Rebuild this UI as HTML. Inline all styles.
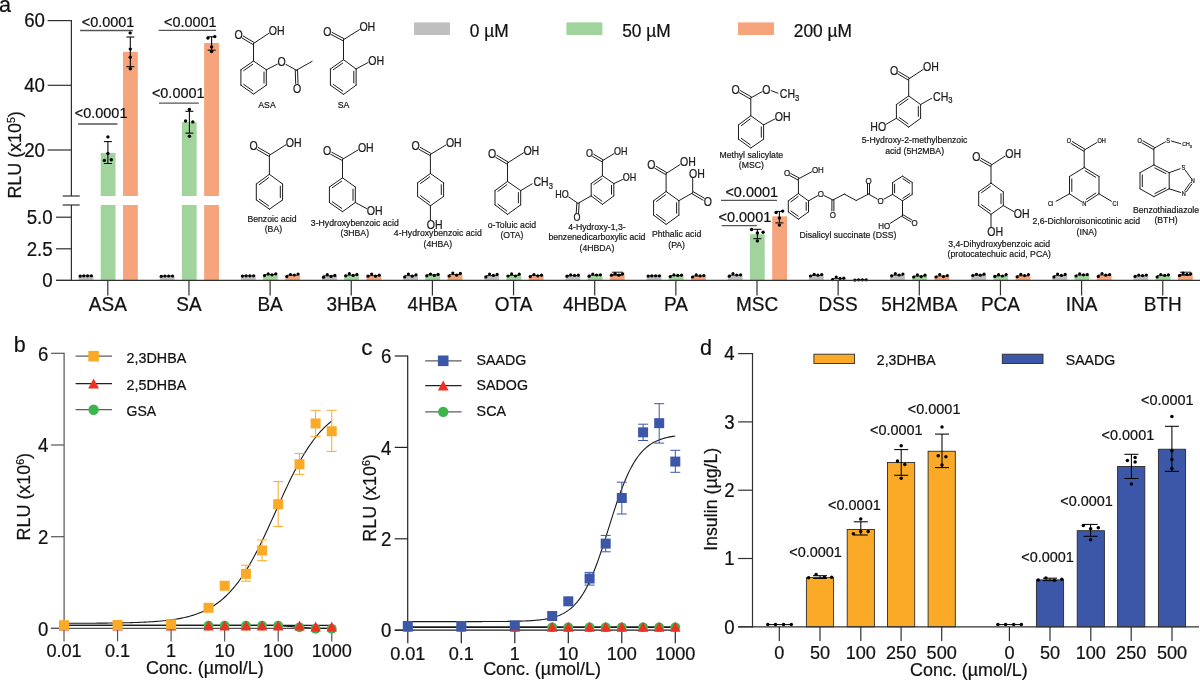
<!DOCTYPE html>
<html><head><meta charset="utf-8"><title>Figure</title>
<style>
html,body{margin:0;padding:0;background:#fff;overflow:hidden;}
svg{display:block;font-family:"Liberation Sans",sans-serif;will-change:transform;}
</style></head>
<body>
<svg width="1200" height="681" viewBox="0 0 1200 681">
<text transform="translate(-1,12.2) scale(1,1)" font-size="21.5" text-anchor="start" fill="#111111" stroke="#111111" stroke-width="0.22" >a</text>
<rect x="78.6" y="275.8" width="14.8" height="4.6" fill="#bfbfbf"/>
<line x1="80.1" y1="275.8" x2="91.6" y2="275.8" stroke="#000" stroke-width="0.8" />
<circle cx="80.1" cy="276.1" r="1.6" fill="#000"/>
<circle cx="83.8" cy="275.8" r="1.6" fill="#000"/>
<circle cx="87.6" cy="275.8" r="1.6" fill="#000"/>
<circle cx="91.4" cy="275.8" r="1.6" fill="#000"/>
<rect x="100.7" y="152.9" width="14.8" height="127.5" fill="#a1d39c"/>
<rect x="123" y="51.8" width="14.8" height="228.6" fill="#f5a47b"/>
<rect x="159.75" y="276" width="14.8" height="4.4" fill="#bfbfbf"/>
<line x1="161.25" y1="276" x2="172.75" y2="276" stroke="#000" stroke-width="0.8" />
<circle cx="161.25" cy="276.3" r="1.6" fill="#000"/>
<circle cx="164.95" cy="276" r="1.6" fill="#000"/>
<circle cx="168.75" cy="276" r="1.6" fill="#000"/>
<circle cx="172.55" cy="276" r="1.6" fill="#000"/>
<rect x="181.85" y="122.1" width="14.8" height="158.3" fill="#a1d39c"/>
<rect x="204.15" y="43" width="14.8" height="237.4" fill="#f5a47b"/>
<rect x="240.9" y="275.8" width="14.8" height="4.6" fill="#bfbfbf"/>
<line x1="242.4" y1="275.8" x2="253.9" y2="275.8" stroke="#000" stroke-width="0.8" />
<circle cx="242.4" cy="276.1" r="1.6" fill="#000"/>
<circle cx="246.1" cy="275.8" r="1.6" fill="#000"/>
<circle cx="249.9" cy="275.8" r="1.6" fill="#000"/>
<circle cx="253.7" cy="275.8" r="1.6" fill="#000"/>
<rect x="263" y="274.6" width="14.8" height="5.8" fill="#a1d39c"/>
<line x1="264.5" y1="274.6" x2="276" y2="274.6" stroke="#000" stroke-width="0.8" />
<circle cx="264.5" cy="275.6" r="1.6" fill="#000"/>
<circle cx="268.2" cy="273.9" r="1.6" fill="#000"/>
<circle cx="272" cy="274.8" r="1.6" fill="#000"/>
<circle cx="275.8" cy="273.8" r="1.6" fill="#000"/>
<rect x="285.3" y="275.2" width="14.8" height="5.2" fill="#f5a47b"/>
<line x1="286.8" y1="275.2" x2="298.3" y2="275.2" stroke="#000" stroke-width="0.8" />
<circle cx="286.8" cy="276.6" r="1.6" fill="#000"/>
<circle cx="290.5" cy="274.5" r="1.6" fill="#000"/>
<circle cx="294.3" cy="275" r="1.6" fill="#000"/>
<circle cx="298.1" cy="274" r="1.6" fill="#000"/>
<rect x="322.05" y="275.8" width="14.8" height="4.6" fill="#bfbfbf"/>
<line x1="323.55" y1="275.8" x2="335.05" y2="275.8" stroke="#000" stroke-width="0.8" />
<circle cx="323.55" cy="277.2" r="1.6" fill="#000"/>
<circle cx="327.25" cy="274.7" r="1.6" fill="#000"/>
<circle cx="331.05" cy="276.4" r="1.6" fill="#000"/>
<circle cx="334.85" cy="275.4" r="1.6" fill="#000"/>
<rect x="344.15" y="275.2" width="14.8" height="5.2" fill="#a1d39c"/>
<line x1="345.65" y1="275.2" x2="357.15" y2="275.2" stroke="#000" stroke-width="0.8" />
<circle cx="345.65" cy="275.8" r="1.6" fill="#000"/>
<circle cx="349.35" cy="273.7" r="1.6" fill="#000"/>
<circle cx="353.15" cy="275.4" r="1.6" fill="#000"/>
<circle cx="356.95" cy="274.4" r="1.6" fill="#000"/>
<rect x="366.45" y="275.6" width="14.8" height="4.8" fill="#f5a47b"/>
<line x1="367.95" y1="275.6" x2="379.45" y2="275.6" stroke="#000" stroke-width="0.8" />
<circle cx="367.95" cy="276.2" r="1.6" fill="#000"/>
<circle cx="371.65" cy="274.1" r="1.6" fill="#000"/>
<circle cx="375.45" cy="276.2" r="1.6" fill="#000"/>
<circle cx="379.25" cy="275.2" r="1.6" fill="#000"/>
<rect x="403.2" y="275.6" width="14.8" height="4.8" fill="#bfbfbf"/>
<line x1="404.7" y1="275.6" x2="416.2" y2="275.6" stroke="#000" stroke-width="0.8" />
<circle cx="404.7" cy="277" r="1.6" fill="#000"/>
<circle cx="408.4" cy="274.1" r="1.6" fill="#000"/>
<circle cx="412.2" cy="276.2" r="1.6" fill="#000"/>
<circle cx="416" cy="274.8" r="1.6" fill="#000"/>
<rect x="425.3" y="274.8" width="14.8" height="5.6" fill="#a1d39c"/>
<line x1="426.8" y1="274.8" x2="438.3" y2="274.8" stroke="#000" stroke-width="0.8" />
<circle cx="426.8" cy="275.8" r="1.6" fill="#000"/>
<circle cx="430.5" cy="274.1" r="1.6" fill="#000"/>
<circle cx="434.3" cy="275.4" r="1.6" fill="#000"/>
<circle cx="438.1" cy="274.4" r="1.6" fill="#000"/>
<rect x="447.6" y="274.6" width="14.8" height="5.8" fill="#f5a47b"/>
<line x1="449.1" y1="274.6" x2="460.6" y2="274.6" stroke="#000" stroke-width="0.8" />
<circle cx="449.1" cy="276" r="1.6" fill="#000"/>
<circle cx="452.8" cy="273.1" r="1.6" fill="#000"/>
<circle cx="456.6" cy="275.2" r="1.6" fill="#000"/>
<circle cx="460.4" cy="273.4" r="1.6" fill="#000"/>
<rect x="484.35" y="275.6" width="14.8" height="4.8" fill="#bfbfbf"/>
<line x1="485.85" y1="275.6" x2="497.35" y2="275.6" stroke="#000" stroke-width="0.8" />
<circle cx="485.85" cy="277" r="1.6" fill="#000"/>
<circle cx="489.55" cy="274.1" r="1.6" fill="#000"/>
<circle cx="493.35" cy="275.4" r="1.6" fill="#000"/>
<circle cx="497.15" cy="274.4" r="1.6" fill="#000"/>
<rect x="506.45" y="275.4" width="14.8" height="5" fill="#a1d39c"/>
<line x1="507.95" y1="275.4" x2="519.45" y2="275.4" stroke="#000" stroke-width="0.8" />
<circle cx="507.95" cy="276" r="1.6" fill="#000"/>
<circle cx="511.65" cy="273.9" r="1.6" fill="#000"/>
<circle cx="515.45" cy="276" r="1.6" fill="#000"/>
<circle cx="519.25" cy="274.2" r="1.6" fill="#000"/>
<rect x="528.75" y="275.6" width="14.8" height="4.8" fill="#f5a47b"/>
<line x1="530.25" y1="275.6" x2="541.75" y2="275.6" stroke="#000" stroke-width="0.8" />
<circle cx="530.25" cy="276.6" r="1.6" fill="#000"/>
<circle cx="533.95" cy="274.5" r="1.6" fill="#000"/>
<circle cx="537.75" cy="275.8" r="1.6" fill="#000"/>
<circle cx="541.55" cy="275.2" r="1.6" fill="#000"/>
<rect x="565.5" y="275.6" width="14.8" height="4.8" fill="#bfbfbf"/>
<line x1="567" y1="275.6" x2="578.5" y2="275.6" stroke="#000" stroke-width="0.8" />
<circle cx="567" cy="276.2" r="1.6" fill="#000"/>
<circle cx="570.7" cy="274.9" r="1.6" fill="#000"/>
<circle cx="574.5" cy="275.4" r="1.6" fill="#000"/>
<circle cx="578.3" cy="275.2" r="1.6" fill="#000"/>
<rect x="587.6" y="275.2" width="14.8" height="5.2" fill="#a1d39c"/>
<line x1="589.1" y1="275.2" x2="600.6" y2="275.2" stroke="#000" stroke-width="0.8" />
<circle cx="589.1" cy="276.2" r="1.6" fill="#000"/>
<circle cx="592.8" cy="274.1" r="1.6" fill="#000"/>
<circle cx="596.6" cy="275" r="1.6" fill="#000"/>
<circle cx="600.4" cy="274.8" r="1.6" fill="#000"/>
<rect x="609.9" y="274.6" width="14.8" height="5.8" fill="#f5a47b"/>
<line x1="611.4" y1="274.6" x2="622.9" y2="274.6" stroke="#000" stroke-width="0.8" />
<circle cx="611.4" cy="275.2" r="1.6" fill="#000"/>
<circle cx="615.1" cy="273.5" r="1.6" fill="#000"/>
<circle cx="618.9" cy="275.2" r="1.6" fill="#000"/>
<circle cx="622.7" cy="273.8" r="1.6" fill="#000"/>
<line x1="611.9" y1="272.2" x2="622.9" y2="272.2" stroke="#000" stroke-width="0.9" />
<line x1="611.9" y1="275.2" x2="622.9" y2="275.2" stroke="#000" stroke-width="0.9" />
<rect x="646.65" y="275.8" width="14.8" height="4.6" fill="#bfbfbf"/>
<line x1="648.15" y1="275.8" x2="659.65" y2="275.8" stroke="#000" stroke-width="0.8" />
<circle cx="648.15" cy="276.1" r="1.6" fill="#000"/>
<circle cx="651.85" cy="275.8" r="1.6" fill="#000"/>
<circle cx="655.65" cy="275.8" r="1.6" fill="#000"/>
<circle cx="659.45" cy="275.8" r="1.6" fill="#000"/>
<rect x="668.75" y="275.6" width="14.8" height="4.8" fill="#a1d39c"/>
<line x1="670.25" y1="275.6" x2="681.75" y2="275.6" stroke="#000" stroke-width="0.8" />
<circle cx="670.25" cy="276.6" r="1.6" fill="#000"/>
<circle cx="673.95" cy="274.9" r="1.6" fill="#000"/>
<circle cx="677.75" cy="275.4" r="1.6" fill="#000"/>
<circle cx="681.55" cy="275.2" r="1.6" fill="#000"/>
<rect x="691.05" y="276" width="14.8" height="4.4" fill="#f5a47b"/>
<line x1="692.55" y1="276" x2="704.05" y2="276" stroke="#000" stroke-width="0.8" />
<circle cx="692.55" cy="277" r="1.6" fill="#000"/>
<circle cx="696.25" cy="274.9" r="1.6" fill="#000"/>
<circle cx="700.05" cy="275.8" r="1.6" fill="#000"/>
<circle cx="703.85" cy="275.6" r="1.6" fill="#000"/>
<rect x="727.8" y="275.2" width="14.8" height="5.2" fill="#bfbfbf"/>
<line x1="729.3" y1="275.2" x2="740.8" y2="275.2" stroke="#000" stroke-width="0.8" />
<circle cx="729.3" cy="276.2" r="1.6" fill="#000"/>
<circle cx="733" cy="273.7" r="1.6" fill="#000"/>
<circle cx="736.8" cy="275" r="1.6" fill="#000"/>
<circle cx="740.6" cy="274.8" r="1.6" fill="#000"/>
<rect x="749.9" y="234.2" width="14.8" height="46.2" fill="#a1d39c"/>
<rect x="772.2" y="216.3" width="14.8" height="64.1" fill="#f5a47b"/>
<rect x="808.95" y="275.4" width="14.8" height="5" fill="#bfbfbf"/>
<line x1="810.45" y1="275.4" x2="821.95" y2="275.4" stroke="#000" stroke-width="0.8" />
<circle cx="810.45" cy="276" r="1.6" fill="#000"/>
<circle cx="814.15" cy="274.3" r="1.6" fill="#000"/>
<circle cx="817.95" cy="275.2" r="1.6" fill="#000"/>
<circle cx="821.75" cy="274.6" r="1.6" fill="#000"/>
<rect x="831.05" y="279.5" width="14.8" height="0.9" fill="#a1d39c"/>
<line x1="832.55" y1="278.6" x2="844.05" y2="278.6" stroke="#000" stroke-width="0.8" />
<circle cx="832.55" cy="279.6" r="1.6" fill="#000"/>
<circle cx="836.25" cy="277.1" r="1.6" fill="#000"/>
<circle cx="840.05" cy="278.4" r="1.6" fill="#000"/>
<circle cx="843.85" cy="278.2" r="1.6" fill="#000"/>
<line x1="854.85" y1="279.8" x2="866.35" y2="279.8" stroke="#000" stroke-width="0.8" />
<circle cx="854.85" cy="280.1" r="1.6" fill="#000"/>
<circle cx="858.55" cy="279.8" r="1.6" fill="#000"/>
<circle cx="862.35" cy="279.8" r="1.6" fill="#000"/>
<circle cx="866.15" cy="279.8" r="1.6" fill="#000"/>
<rect x="890.1" y="275.2" width="14.8" height="5.2" fill="#bfbfbf"/>
<line x1="891.6" y1="275.2" x2="903.1" y2="275.2" stroke="#000" stroke-width="0.8" />
<circle cx="891.6" cy="275.8" r="1.6" fill="#000"/>
<circle cx="895.3" cy="273.7" r="1.6" fill="#000"/>
<circle cx="899.1" cy="275" r="1.6" fill="#000"/>
<circle cx="902.9" cy="274" r="1.6" fill="#000"/>
<rect x="912.2" y="276" width="14.8" height="4.4" fill="#a1d39c"/>
<line x1="913.7" y1="276" x2="925.2" y2="276" stroke="#000" stroke-width="0.8" />
<circle cx="913.7" cy="277" r="1.6" fill="#000"/>
<circle cx="917.4" cy="274.9" r="1.6" fill="#000"/>
<circle cx="921.2" cy="276.6" r="1.6" fill="#000"/>
<circle cx="925" cy="275.2" r="1.6" fill="#000"/>
<rect x="934.5" y="276" width="14.8" height="4.4" fill="#f5a47b"/>
<line x1="936" y1="276" x2="947.5" y2="276" stroke="#000" stroke-width="0.8" />
<circle cx="936" cy="277" r="1.6" fill="#000"/>
<circle cx="939.7" cy="274.5" r="1.6" fill="#000"/>
<circle cx="943.5" cy="276.6" r="1.6" fill="#000"/>
<circle cx="947.3" cy="275.6" r="1.6" fill="#000"/>
<rect x="971.25" y="275" width="14.8" height="5.4" fill="#bfbfbf"/>
<line x1="972.75" y1="275" x2="984.25" y2="275" stroke="#000" stroke-width="0.8" />
<circle cx="972.75" cy="275.6" r="1.6" fill="#000"/>
<circle cx="976.45" cy="274.3" r="1.6" fill="#000"/>
<circle cx="980.25" cy="275.2" r="1.6" fill="#000"/>
<circle cx="984.05" cy="274.2" r="1.6" fill="#000"/>
<rect x="993.35" y="275.8" width="14.8" height="4.6" fill="#a1d39c"/>
<line x1="994.85" y1="275.8" x2="1006.35" y2="275.8" stroke="#000" stroke-width="0.8" />
<circle cx="994.85" cy="276.4" r="1.6" fill="#000"/>
<circle cx="998.55" cy="274.7" r="1.6" fill="#000"/>
<circle cx="1002.35" cy="276" r="1.6" fill="#000"/>
<circle cx="1006.15" cy="274.6" r="1.6" fill="#000"/>
<rect x="1015.65" y="275.8" width="14.8" height="4.6" fill="#f5a47b"/>
<line x1="1017.15" y1="275.8" x2="1028.65" y2="275.8" stroke="#000" stroke-width="0.8" />
<circle cx="1017.15" cy="276.8" r="1.6" fill="#000"/>
<circle cx="1020.85" cy="274.3" r="1.6" fill="#000"/>
<circle cx="1024.65" cy="275.6" r="1.6" fill="#000"/>
<circle cx="1028.45" cy="274.6" r="1.6" fill="#000"/>
<rect x="1052.4" y="275.6" width="14.8" height="4.8" fill="#bfbfbf"/>
<line x1="1053.9" y1="275.6" x2="1065.4" y2="275.6" stroke="#000" stroke-width="0.8" />
<circle cx="1053.9" cy="277" r="1.6" fill="#000"/>
<circle cx="1057.6" cy="274.1" r="1.6" fill="#000"/>
<circle cx="1061.4" cy="275.4" r="1.6" fill="#000"/>
<circle cx="1065.2" cy="274.4" r="1.6" fill="#000"/>
<rect x="1074.5" y="275" width="14.8" height="5.4" fill="#a1d39c"/>
<line x1="1076" y1="275" x2="1087.5" y2="275" stroke="#000" stroke-width="0.8" />
<circle cx="1076" cy="276" r="1.6" fill="#000"/>
<circle cx="1079.7" cy="273.9" r="1.6" fill="#000"/>
<circle cx="1083.5" cy="274.8" r="1.6" fill="#000"/>
<circle cx="1087.3" cy="274.6" r="1.6" fill="#000"/>
<rect x="1096.8" y="275" width="14.8" height="5.4" fill="#f5a47b"/>
<line x1="1098.3" y1="275" x2="1109.8" y2="275" stroke="#000" stroke-width="0.8" />
<circle cx="1098.3" cy="276.4" r="1.6" fill="#000"/>
<circle cx="1102" cy="273.5" r="1.6" fill="#000"/>
<circle cx="1105.8" cy="275.2" r="1.6" fill="#000"/>
<circle cx="1109.6" cy="274.6" r="1.6" fill="#000"/>
<rect x="1133.55" y="275.8" width="14.8" height="4.6" fill="#bfbfbf"/>
<line x1="1135.05" y1="275.8" x2="1146.55" y2="275.8" stroke="#000" stroke-width="0.8" />
<circle cx="1135.05" cy="276.4" r="1.6" fill="#000"/>
<circle cx="1138.75" cy="275.1" r="1.6" fill="#000"/>
<circle cx="1142.55" cy="275.6" r="1.6" fill="#000"/>
<circle cx="1146.35" cy="275" r="1.6" fill="#000"/>
<rect x="1155.65" y="275.6" width="14.8" height="4.8" fill="#a1d39c"/>
<line x1="1157.15" y1="275.6" x2="1168.65" y2="275.6" stroke="#000" stroke-width="0.8" />
<circle cx="1157.15" cy="277" r="1.6" fill="#000"/>
<circle cx="1160.85" cy="274.5" r="1.6" fill="#000"/>
<circle cx="1164.65" cy="275.4" r="1.6" fill="#000"/>
<circle cx="1168.45" cy="274.8" r="1.6" fill="#000"/>
<rect x="1177.95" y="274.6" width="14.8" height="5.8" fill="#f5a47b"/>
<line x1="1179.45" y1="274.6" x2="1190.95" y2="274.6" stroke="#000" stroke-width="0.8" />
<circle cx="1179.45" cy="275.6" r="1.6" fill="#000"/>
<circle cx="1183.15" cy="273.1" r="1.6" fill="#000"/>
<circle cx="1186.95" cy="274.4" r="1.6" fill="#000"/>
<circle cx="1190.75" cy="273.8" r="1.6" fill="#000"/>
<line x1="1179.95" y1="272.2" x2="1190.95" y2="272.2" stroke="#000" stroke-width="0.9" />
<line x1="1179.95" y1="275.2" x2="1190.95" y2="275.2" stroke="#000" stroke-width="0.9" />
<rect x="76" y="196" width="150" height="9" fill="#fff"/>
<line x1="107.9" y1="141.6" x2="107.9" y2="163.5" stroke="#000" stroke-width="1.05" />
<line x1="103.9" y1="141.6" x2="111.9" y2="141.6" stroke="#000" stroke-width="1.05" />
<line x1="103.9" y1="163.5" x2="111.9" y2="163.5" stroke="#000" stroke-width="1.05" />
<circle cx="107.9" cy="136.9" r="1.7" fill="#000"/>
<circle cx="107.9" cy="153.5" r="1.7" fill="#000"/>
<circle cx="104.4" cy="160.4" r="1.7" fill="#000"/>
<circle cx="111.3" cy="159.8" r="1.7" fill="#000"/>
<line x1="130.3" y1="37" x2="130.3" y2="66.7" stroke="#000" stroke-width="1.05" />
<line x1="126.3" y1="37" x2="134.3" y2="37" stroke="#000" stroke-width="1.05" />
<line x1="126.3" y1="66.7" x2="134.3" y2="66.7" stroke="#000" stroke-width="1.05" />
<circle cx="130.2" cy="32.9" r="1.7" fill="#000"/>
<circle cx="130.3" cy="49.1" r="1.7" fill="#000"/>
<circle cx="130.3" cy="57.3" r="1.7" fill="#000"/>
<circle cx="130.3" cy="68.7" r="1.7" fill="#000"/>
<line x1="189.4" y1="111.3" x2="189.4" y2="133.1" stroke="#000" stroke-width="1.05" />
<line x1="185.4" y1="111.3" x2="193.4" y2="111.3" stroke="#000" stroke-width="1.05" />
<line x1="185.4" y1="133.1" x2="193.4" y2="133.1" stroke="#000" stroke-width="1.05" />
<circle cx="189.4" cy="109.4" r="1.7" fill="#000"/>
<circle cx="185.6" cy="121" r="1.7" fill="#000"/>
<circle cx="192.8" cy="121.9" r="1.7" fill="#000"/>
<circle cx="189.4" cy="136.3" r="1.7" fill="#000"/>
<line x1="211.6" y1="36.8" x2="211.6" y2="50.2" stroke="#000" stroke-width="1.05" />
<line x1="207.6" y1="36.8" x2="215.6" y2="36.8" stroke="#000" stroke-width="1.05" />
<line x1="207.6" y1="50.2" x2="215.6" y2="50.2" stroke="#000" stroke-width="1.05" />
<circle cx="207.9" cy="38" r="1.7" fill="#000"/>
<circle cx="214.8" cy="36.6" r="1.7" fill="#000"/>
<circle cx="211.6" cy="46.9" r="1.7" fill="#000"/>
<circle cx="211.6" cy="51.5" r="1.7" fill="#000"/>
<line x1="757.4" y1="229.3" x2="757.4" y2="238.7" stroke="#000" stroke-width="1.05" />
<line x1="753.4" y1="229.3" x2="761.4" y2="229.3" stroke="#000" stroke-width="1.05" />
<line x1="753.4" y1="238.7" x2="761.4" y2="238.7" stroke="#000" stroke-width="1.05" />
<circle cx="751.6" cy="229.5" r="1.7" fill="#000"/>
<circle cx="763.1" cy="232.3" r="1.7" fill="#000"/>
<circle cx="757.4" cy="233" r="1.7" fill="#000"/>
<circle cx="757.4" cy="240.9" r="1.7" fill="#000"/>
<line x1="779.4" y1="211.4" x2="779.4" y2="222.9" stroke="#000" stroke-width="1.05" />
<line x1="775.4" y1="211.4" x2="783.4" y2="211.4" stroke="#000" stroke-width="1.05" />
<line x1="775.4" y1="222.9" x2="783.4" y2="222.9" stroke="#000" stroke-width="1.05" />
<circle cx="776.1" cy="212.5" r="1.7" fill="#000"/>
<circle cx="782.7" cy="211.1" r="1.7" fill="#000"/>
<circle cx="779.4" cy="218" r="1.7" fill="#000"/>
<circle cx="779.4" cy="225.1" r="1.7" fill="#000"/>
<text transform="translate(81.7,27.4) scale(1,1.04)" font-size="14.45" text-anchor="start" fill="#111111" stroke="#111111" stroke-width="0.22" >&lt;0.0001</text>
<line x1="80.1" y1="30.5" x2="132.8" y2="30.5" stroke="#555" stroke-width="1.3" />
<text transform="translate(74.8,118.1) scale(1,1.04)" font-size="14.45" text-anchor="start" fill="#111111" stroke="#111111" stroke-width="0.22" >&lt;0.0001</text>
<line x1="78.1" y1="124" x2="117.5" y2="124" stroke="#555" stroke-width="1.3" />
<text transform="translate(164,27.4) scale(1,1.04)" font-size="14.45" text-anchor="start" fill="#111111" stroke="#111111" stroke-width="0.22" >&lt;0.0001</text>
<line x1="158.6" y1="30.4" x2="216.1" y2="30.4" stroke="#555" stroke-width="1.3" />
<text transform="translate(151.9,98.1) scale(1,1.04)" font-size="14.45" text-anchor="start" fill="#111111" stroke="#111111" stroke-width="0.22" >&lt;0.0001</text>
<line x1="159" y1="103.1" x2="198.8" y2="103.1" stroke="#555" stroke-width="1.3" />
<text transform="translate(725.4,196.5) scale(1,1.04)" font-size="14.45" text-anchor="start" fill="#111111" stroke="#111111" stroke-width="0.22" >&lt;0.0001</text>
<line x1="721" y1="200.3" x2="777" y2="200.3" stroke="#555" stroke-width="1.3" />
<text transform="translate(718.6,221.8) scale(1,1.04)" font-size="14.45" text-anchor="start" fill="#111111" stroke="#111111" stroke-width="0.22" >&lt;0.0001</text>
<line x1="721.6" y1="225.7" x2="756.8" y2="225.7" stroke="#555" stroke-width="1.3" />
<line x1="71.4" y1="20" x2="71.4" y2="196" stroke="#303030" stroke-width="1.2" />
<line x1="62.7" y1="196" x2="79.7" y2="196" stroke="#303030" stroke-width="1.2" />
<line x1="71.4" y1="205" x2="71.4" y2="281" stroke="#303030" stroke-width="1.2" />
<line x1="62.7" y1="205" x2="79.7" y2="205" stroke="#303030" stroke-width="1.2" />
<line x1="47.6" y1="20.6" x2="71.4" y2="20.6" stroke="#303030" stroke-width="1.2" />
<text transform="translate(45,27.3) scale(1,1.04)" font-size="18.7" text-anchor="end" fill="#111111" stroke="#111111" stroke-width="0.22" >60</text>
<line x1="47.6" y1="85.3" x2="71.4" y2="85.3" stroke="#303030" stroke-width="1.2" />
<text transform="translate(45,92) scale(1,1.04)" font-size="18.7" text-anchor="end" fill="#111111" stroke="#111111" stroke-width="0.22" >40</text>
<line x1="47.6" y1="150" x2="71.4" y2="150" stroke="#303030" stroke-width="1.2" />
<text transform="translate(45,156.7) scale(1,1.04)" font-size="18.7" text-anchor="end" fill="#111111" stroke="#111111" stroke-width="0.22" >20</text>
<line x1="56" y1="217.2" x2="71.4" y2="217.2" stroke="#303030" stroke-width="1.2" />
<text transform="translate(52.7,223.9) scale(1,1.04)" font-size="18.7" text-anchor="end" fill="#111111" stroke="#111111" stroke-width="0.22" >5.0</text>
<line x1="56" y1="248.8" x2="71.4" y2="248.8" stroke="#303030" stroke-width="1.2" />
<text transform="translate(52.7,255.5) scale(1,1.04)" font-size="18.7" text-anchor="end" fill="#111111" stroke="#111111" stroke-width="0.22" >2.5</text>
<line x1="56" y1="280.4" x2="71.4" y2="280.4" stroke="#303030" stroke-width="1.2" />
<text transform="translate(52.7,287.1) scale(1,1.04)" font-size="18.7" text-anchor="end" fill="#111111" stroke="#111111" stroke-width="0.22" >0</text>
<line x1="56" y1="280.4" x2="1200" y2="280.4" stroke="#303030" stroke-width="1.2" />
<line x1="107.8" y1="280.4" x2="107.8" y2="295.4" stroke="#303030" stroke-width="1.2" />
<text transform="translate(107.8,310.7) scale(1,1.04)" font-size="19" text-anchor="middle" fill="#111111" stroke="#111111" stroke-width="0.22" >ASA</text>
<line x1="188.95" y1="280.4" x2="188.95" y2="295.4" stroke="#303030" stroke-width="1.2" />
<text transform="translate(188.95,310.7) scale(1,1.04)" font-size="19" text-anchor="middle" fill="#111111" stroke="#111111" stroke-width="0.22" >SA</text>
<line x1="270.1" y1="280.4" x2="270.1" y2="295.4" stroke="#303030" stroke-width="1.2" />
<text transform="translate(270.1,310.7) scale(1,1.04)" font-size="19" text-anchor="middle" fill="#111111" stroke="#111111" stroke-width="0.22" >BA</text>
<line x1="351.25" y1="280.4" x2="351.25" y2="295.4" stroke="#303030" stroke-width="1.2" />
<text transform="translate(351.25,310.7) scale(1,1.04)" font-size="19" text-anchor="middle" fill="#111111" stroke="#111111" stroke-width="0.22" >3HBA</text>
<line x1="432.4" y1="280.4" x2="432.4" y2="295.4" stroke="#303030" stroke-width="1.2" />
<text transform="translate(432.4,310.7) scale(1,1.04)" font-size="19" text-anchor="middle" fill="#111111" stroke="#111111" stroke-width="0.22" >4HBA</text>
<line x1="513.55" y1="280.4" x2="513.55" y2="295.4" stroke="#303030" stroke-width="1.2" />
<text transform="translate(513.55,310.7) scale(1,1.04)" font-size="19" text-anchor="middle" fill="#111111" stroke="#111111" stroke-width="0.22" >OTA</text>
<line x1="594.7" y1="280.4" x2="594.7" y2="295.4" stroke="#303030" stroke-width="1.2" />
<text transform="translate(594.7,310.7) scale(1,1.04)" font-size="19" text-anchor="middle" fill="#111111" stroke="#111111" stroke-width="0.22" >4HBDA</text>
<line x1="675.85" y1="280.4" x2="675.85" y2="295.4" stroke="#303030" stroke-width="1.2" />
<text transform="translate(675.85,310.7) scale(1,1.04)" font-size="19" text-anchor="middle" fill="#111111" stroke="#111111" stroke-width="0.22" >PA</text>
<line x1="757" y1="280.4" x2="757" y2="295.4" stroke="#303030" stroke-width="1.2" />
<text transform="translate(757,310.7) scale(1,1.04)" font-size="19" text-anchor="middle" fill="#111111" stroke="#111111" stroke-width="0.22" >MSC</text>
<line x1="838.15" y1="280.4" x2="838.15" y2="295.4" stroke="#303030" stroke-width="1.2" />
<text transform="translate(838.15,310.7) scale(1,1.04)" font-size="19" text-anchor="middle" fill="#111111" stroke="#111111" stroke-width="0.22" >DSS</text>
<line x1="919.3" y1="280.4" x2="919.3" y2="295.4" stroke="#303030" stroke-width="1.2" />
<text transform="translate(919.3,310.7) scale(1,1.04)" font-size="19" text-anchor="middle" fill="#111111" stroke="#111111" stroke-width="0.22" >5H2MBA</text>
<line x1="1000.45" y1="280.4" x2="1000.45" y2="295.4" stroke="#303030" stroke-width="1.2" />
<text transform="translate(1000.45,310.7) scale(1,1.04)" font-size="19" text-anchor="middle" fill="#111111" stroke="#111111" stroke-width="0.22" >PCA</text>
<line x1="1081.6" y1="280.4" x2="1081.6" y2="295.4" stroke="#303030" stroke-width="1.2" />
<text transform="translate(1081.6,310.7) scale(1,1.04)" font-size="19" text-anchor="middle" fill="#111111" stroke="#111111" stroke-width="0.22" >INA</text>
<line x1="1162.75" y1="280.4" x2="1162.75" y2="295.4" stroke="#303030" stroke-width="1.2" />
<text transform="translate(1162.75,310.7) scale(1,1.04)" font-size="19" text-anchor="middle" fill="#111111" stroke="#111111" stroke-width="0.22" >BTH</text>
<text transform="translate(20.9,154.9) rotate(-90) scale(1,1.04)" font-size="17.9" text-anchor="middle" fill="#111111" stroke="#111111" stroke-width="0.22">RLU (x10<tspan font-size="10.5" dy="-6">5</tspan><tspan dy="6">)</tspan></text>
<rect x="414" y="22.4" width="36" height="12.6" fill="#bfbfbf"/>
<text transform="translate(469.8,37) scale(1,1.04)" font-size="17.3" text-anchor="start" fill="#111111" stroke="#111111" stroke-width="0.22" >0 µM</text>
<rect x="566.4" y="22.4" width="36" height="12.6" fill="#a1d39c"/>
<text transform="translate(622.2,37) scale(1,1.04)" font-size="17.3" text-anchor="start" fill="#111111" stroke="#111111" stroke-width="0.22" >50 µM</text>
<rect x="738" y="22.4" width="36" height="12.6" fill="#f5a47b"/>
<text transform="translate(793.8,37) scale(1,1.04)" font-size="17.3" text-anchor="start" fill="#111111" stroke="#111111" stroke-width="0.22" >200 µM</text>
<line x1="253.5" y1="61" x2="266.3" y2="69.8" stroke="#1c1c1c" stroke-width="1.0" stroke-linecap="round"/>
<line x1="266.3" y1="69.8" x2="266.3" y2="85.2" stroke="#1c1c1c" stroke-width="1.0" stroke-linecap="round"/>
<line x1="266.3" y1="85.2" x2="253.5" y2="94.1" stroke="#1c1c1c" stroke-width="1.0" stroke-linecap="round"/>
<line x1="253.5" y1="94.1" x2="240.9" y2="85.2" stroke="#1c1c1c" stroke-width="1.0" stroke-linecap="round"/>
<line x1="240.9" y1="85.2" x2="240.9" y2="69.8" stroke="#1c1c1c" stroke-width="1.0" stroke-linecap="round"/>
<line x1="240.9" y1="69.8" x2="253.5" y2="61" stroke="#1c1c1c" stroke-width="1.0" stroke-linecap="round"/>
<line x1="243.73" y1="70.6" x2="252.81" y2="64.27" stroke="#1c1c1c" stroke-width="1.0" stroke-linecap="round"/>
<line x1="264" y1="71.96" x2="264" y2="83.05" stroke="#1c1c1c" stroke-width="1.0" stroke-linecap="round"/>
<line x1="252.8" y1="90.82" x2="243.73" y2="84.41" stroke="#1c1c1c" stroke-width="1.0" stroke-linecap="round"/>
<line x1="253.5" y1="61" x2="253.5" y2="43.5" stroke="#1c1c1c" stroke-width="1.0" stroke-linecap="round"/>
<line x1="254.09" y1="42.51" x2="243.31" y2="36.07" stroke="#1c1c1c" stroke-width="1.0" stroke-linecap="round"/>
<line x1="252.91" y1="44.49" x2="242.13" y2="38.05" stroke="#1c1c1c" stroke-width="1.0" stroke-linecap="round"/>
<line x1="253.5" y1="43.5" x2="268.8" y2="33.35" stroke="#1c1c1c" stroke-width="1.0" stroke-linecap="round"/>
<text transform="translate(234.49,38.92) scale(0.88,1)" font-size="12" text-anchor="start" fill="#1c1c1c" stroke="#1c1c1c" stroke-width="0.25">O</text>
<text transform="translate(268.69,35.02) scale(0.88,1)" font-size="12" text-anchor="start" fill="#1c1c1c" stroke="#1c1c1c" stroke-width="0.25">OH</text>
<line x1="266.3" y1="69.8" x2="277.3" y2="64.19" stroke="#1c1c1c" stroke-width="1.0" stroke-linecap="round"/>
<line x1="285.82" y1="64.34" x2="296.4" y2="70.2" stroke="#1c1c1c" stroke-width="1.0" stroke-linecap="round"/>
<line x1="295.25" y1="70.24" x2="295.69" y2="83.51" stroke="#1c1c1c" stroke-width="1.0" stroke-linecap="round"/>
<line x1="297.55" y1="70.16" x2="297.99" y2="83.43" stroke="#1c1c1c" stroke-width="1.0" stroke-linecap="round"/>
<line x1="296.4" y1="70.2" x2="312.2" y2="61.3" stroke="#1c1c1c" stroke-width="1.0" stroke-linecap="round"/>
<text transform="translate(277.49,66.32) scale(0.88,1)" font-size="12" text-anchor="start" fill="#1c1c1c" stroke="#1c1c1c" stroke-width="0.25">O</text>
<text transform="translate(292.89,92.62) scale(0.88,1)" font-size="12" text-anchor="start" fill="#1c1c1c" stroke="#1c1c1c" stroke-width="0.25">O</text>
<text transform="translate(267,108.33) scale(1,1.04)" font-size="8.7" text-anchor="middle" fill="#161616" stroke="#161616" stroke-width="0.2" >ASA</text>
<line x1="343.5" y1="59.7" x2="356.1" y2="69" stroke="#1c1c1c" stroke-width="1.0" stroke-linecap="round"/>
<line x1="356.1" y1="69" x2="356.1" y2="85.2" stroke="#1c1c1c" stroke-width="1.0" stroke-linecap="round"/>
<line x1="356.1" y1="85.2" x2="343.5" y2="94.4" stroke="#1c1c1c" stroke-width="1.0" stroke-linecap="round"/>
<line x1="343.5" y1="94.4" x2="330.4" y2="85.2" stroke="#1c1c1c" stroke-width="1.0" stroke-linecap="round"/>
<line x1="330.4" y1="85.2" x2="330.4" y2="69" stroke="#1c1c1c" stroke-width="1.0" stroke-linecap="round"/>
<line x1="330.4" y1="69" x2="343.5" y2="59.7" stroke="#1c1c1c" stroke-width="1.0" stroke-linecap="round"/>
<line x1="333.26" y1="69.75" x2="342.7" y2="63.06" stroke="#1c1c1c" stroke-width="1.0" stroke-linecap="round"/>
<line x1="353.8" y1="71.26" x2="353.8" y2="82.93" stroke="#1c1c1c" stroke-width="1.0" stroke-linecap="round"/>
<line x1="342.7" y1="91.06" x2="333.27" y2="84.43" stroke="#1c1c1c" stroke-width="1.0" stroke-linecap="round"/>
<line x1="343.5" y1="59.7" x2="343.5" y2="39.7" stroke="#1c1c1c" stroke-width="1.0" stroke-linecap="round"/>
<line x1="344.03" y1="38.68" x2="332.08" y2="32.41" stroke="#1c1c1c" stroke-width="1.0" stroke-linecap="round"/>
<line x1="342.97" y1="40.72" x2="331.02" y2="34.45" stroke="#1c1c1c" stroke-width="1.0" stroke-linecap="round"/>
<line x1="343.5" y1="39.7" x2="359.45" y2="29.57" stroke="#1c1c1c" stroke-width="1.0" stroke-linecap="round"/>
<text transform="translate(323.19,35.52) scale(0.88,1)" font-size="12" text-anchor="start" fill="#1c1c1c" stroke="#1c1c1c" stroke-width="0.25">O</text>
<text transform="translate(359.39,31.32) scale(0.88,1)" font-size="12" text-anchor="start" fill="#1c1c1c" stroke="#1c1c1c" stroke-width="0.25">OH</text>
<line x1="356.1" y1="69" x2="368.06" y2="62.51" stroke="#1c1c1c" stroke-width="1.0" stroke-linecap="round"/>
<text transform="translate(368.19,64.52) scale(0.88,1)" font-size="12" text-anchor="start" fill="#1c1c1c" stroke="#1c1c1c" stroke-width="0.25">OH</text>
<text transform="translate(343.5,108.33) scale(1,1.04)" font-size="8.7" text-anchor="middle" fill="#161616" stroke="#161616" stroke-width="0.2" >SA</text>
<line x1="269.4" y1="174.3" x2="282.6" y2="184" stroke="#1c1c1c" stroke-width="1.0" stroke-linecap="round"/>
<line x1="282.6" y1="184" x2="282.6" y2="199.9" stroke="#1c1c1c" stroke-width="1.0" stroke-linecap="round"/>
<line x1="282.6" y1="199.9" x2="269.4" y2="209.2" stroke="#1c1c1c" stroke-width="1.0" stroke-linecap="round"/>
<line x1="269.4" y1="209.2" x2="256.3" y2="199.9" stroke="#1c1c1c" stroke-width="1.0" stroke-linecap="round"/>
<line x1="256.3" y1="199.9" x2="256.3" y2="184" stroke="#1c1c1c" stroke-width="1.0" stroke-linecap="round"/>
<line x1="256.3" y1="184" x2="269.4" y2="174.3" stroke="#1c1c1c" stroke-width="1.0" stroke-linecap="round"/>
<line x1="259.19" y1="184.69" x2="268.62" y2="177.7" stroke="#1c1c1c" stroke-width="1.0" stroke-linecap="round"/>
<line x1="280.3" y1="186.21" x2="280.3" y2="197.66" stroke="#1c1c1c" stroke-width="1.0" stroke-linecap="round"/>
<line x1="268.63" y1="205.86" x2="259.19" y2="199.16" stroke="#1c1c1c" stroke-width="1.0" stroke-linecap="round"/>
<line x1="269.4" y1="174.3" x2="269.4" y2="155.3" stroke="#1c1c1c" stroke-width="1.0" stroke-linecap="round"/>
<line x1="269.98" y1="154.3" x2="258.23" y2="147.51" stroke="#1c1c1c" stroke-width="1.0" stroke-linecap="round"/>
<line x1="268.82" y1="156.3" x2="257.08" y2="149.5" stroke="#1c1c1c" stroke-width="1.0" stroke-linecap="round"/>
<line x1="269.4" y1="155.3" x2="285.75" y2="144.88" stroke="#1c1c1c" stroke-width="1.0" stroke-linecap="round"/>
<text transform="translate(249.39,150.42) scale(0.88,1)" font-size="12" text-anchor="start" fill="#1c1c1c" stroke="#1c1c1c" stroke-width="0.25">O</text>
<text transform="translate(285.69,146.62) scale(0.88,1)" font-size="12" text-anchor="start" fill="#1c1c1c" stroke="#1c1c1c" stroke-width="0.25">OH</text>
<text transform="translate(272,221.83) scale(1,1.04)" font-size="8.7" text-anchor="middle" fill="#161616" stroke="#161616" stroke-width="0.2" >Benzoic acid</text>
<text transform="translate(273.4,232.43) scale(1,1.04)" font-size="8.7" text-anchor="middle" fill="#161616" stroke="#161616" stroke-width="0.2" >(BA)</text>
<line x1="342.5" y1="177.8" x2="355.3" y2="187" stroke="#1c1c1c" stroke-width="1.0" stroke-linecap="round"/>
<line x1="355.3" y1="187" x2="355.3" y2="202.5" stroke="#1c1c1c" stroke-width="1.0" stroke-linecap="round"/>
<line x1="355.3" y1="202.5" x2="342.5" y2="211.7" stroke="#1c1c1c" stroke-width="1.0" stroke-linecap="round"/>
<line x1="342.5" y1="211.7" x2="329.4" y2="202.5" stroke="#1c1c1c" stroke-width="1.0" stroke-linecap="round"/>
<line x1="329.4" y1="202.5" x2="329.4" y2="187" stroke="#1c1c1c" stroke-width="1.0" stroke-linecap="round"/>
<line x1="329.4" y1="187" x2="342.5" y2="177.8" stroke="#1c1c1c" stroke-width="1.0" stroke-linecap="round"/>
<line x1="332.3" y1="187.75" x2="341.73" y2="181.13" stroke="#1c1c1c" stroke-width="1.0" stroke-linecap="round"/>
<line x1="353" y1="189.17" x2="353" y2="200.33" stroke="#1c1c1c" stroke-width="1.0" stroke-linecap="round"/>
<line x1="341.73" y1="208.37" x2="332.3" y2="201.75" stroke="#1c1c1c" stroke-width="1.0" stroke-linecap="round"/>
<line x1="342.5" y1="177.8" x2="342.5" y2="159.3" stroke="#1c1c1c" stroke-width="1.0" stroke-linecap="round"/>
<line x1="343.04" y1="158.28" x2="331.88" y2="152.34" stroke="#1c1c1c" stroke-width="1.0" stroke-linecap="round"/>
<line x1="341.96" y1="160.32" x2="330.8" y2="154.37" stroke="#1c1c1c" stroke-width="1.0" stroke-linecap="round"/>
<line x1="342.5" y1="159.3" x2="357.89" y2="149.99" stroke="#1c1c1c" stroke-width="1.0" stroke-linecap="round"/>
<text transform="translate(322.99,155.42) scale(0.88,1)" font-size="12" text-anchor="start" fill="#1c1c1c" stroke="#1c1c1c" stroke-width="0.25">O</text>
<text transform="translate(357.89,151.82) scale(0.88,1)" font-size="12" text-anchor="start" fill="#1c1c1c" stroke="#1c1c1c" stroke-width="0.25">OH</text>
<line x1="355.3" y1="202.5" x2="366.54" y2="208.52" stroke="#1c1c1c" stroke-width="1.0" stroke-linecap="round"/>
<text transform="translate(366.69,215.12) scale(0.88,1)" font-size="12" text-anchor="start" fill="#1c1c1c" stroke="#1c1c1c" stroke-width="0.25">OH</text>
<text transform="translate(354.8,225.83) scale(1,1.04)" font-size="8.7" text-anchor="middle" fill="#161616" stroke="#161616" stroke-width="0.2" >3-Hydroxybenzoic acid</text>
<text transform="translate(354.8,236.13) scale(1,1.04)" font-size="8.7" text-anchor="middle" fill="#161616" stroke="#161616" stroke-width="0.2" >(3HBA)</text>
<line x1="430.4" y1="173.5" x2="443.6" y2="182.8" stroke="#1c1c1c" stroke-width="1.0" stroke-linecap="round"/>
<line x1="443.6" y1="182.8" x2="443.6" y2="196.4" stroke="#1c1c1c" stroke-width="1.0" stroke-linecap="round"/>
<line x1="443.6" y1="196.4" x2="430.4" y2="205.8" stroke="#1c1c1c" stroke-width="1.0" stroke-linecap="round"/>
<line x1="430.4" y1="205.8" x2="417.6" y2="196.4" stroke="#1c1c1c" stroke-width="1.0" stroke-linecap="round"/>
<line x1="417.6" y1="196.4" x2="417.6" y2="182.8" stroke="#1c1c1c" stroke-width="1.0" stroke-linecap="round"/>
<line x1="417.6" y1="182.8" x2="430.4" y2="173.5" stroke="#1c1c1c" stroke-width="1.0" stroke-linecap="round"/>
<line x1="420.53" y1="183.5" x2="429.75" y2="176.8" stroke="#1c1c1c" stroke-width="1.0" stroke-linecap="round"/>
<line x1="441.3" y1="184.71" x2="441.3" y2="194.5" stroke="#1c1c1c" stroke-width="1.0" stroke-linecap="round"/>
<line x1="429.75" y1="202.48" x2="420.53" y2="195.72" stroke="#1c1c1c" stroke-width="1.0" stroke-linecap="round"/>
<line x1="430.4" y1="173.5" x2="430.4" y2="154.4" stroke="#1c1c1c" stroke-width="1.0" stroke-linecap="round"/>
<line x1="430.96" y1="153.4" x2="420.35" y2="147.44" stroke="#1c1c1c" stroke-width="1.0" stroke-linecap="round"/>
<line x1="429.84" y1="155.4" x2="419.22" y2="149.45" stroke="#1c1c1c" stroke-width="1.0" stroke-linecap="round"/>
<line x1="430.4" y1="154.4" x2="445.9" y2="144.99" stroke="#1c1c1c" stroke-width="1.0" stroke-linecap="round"/>
<text transform="translate(411.49,150.42) scale(0.88,1)" font-size="12" text-anchor="start" fill="#1c1c1c" stroke="#1c1c1c" stroke-width="0.25">O</text>
<text transform="translate(445.89,146.82) scale(0.88,1)" font-size="12" text-anchor="start" fill="#1c1c1c" stroke="#1c1c1c" stroke-width="0.25">OH</text>
<line x1="430.4" y1="205.8" x2="430.4" y2="219.67" stroke="#1c1c1c" stroke-width="1.0" stroke-linecap="round"/>
<text transform="translate(426.69,228.82) scale(0.88,1)" font-size="12" text-anchor="start" fill="#1c1c1c" stroke="#1c1c1c" stroke-width="0.25">OH</text>
<text transform="translate(437.8,236.43) scale(1,1.04)" font-size="8.7" text-anchor="middle" fill="#161616" stroke="#161616" stroke-width="0.2" >4-Hydroxybenzoic acid</text>
<text transform="translate(437.8,246.93) scale(1,1.04)" font-size="8.7" text-anchor="middle" fill="#161616" stroke="#161616" stroke-width="0.2" >(4HBA)</text>
<line x1="507.5" y1="181.4" x2="520.7" y2="190.6" stroke="#1c1c1c" stroke-width="1.0" stroke-linecap="round"/>
<line x1="520.7" y1="190.6" x2="520.7" y2="204.9" stroke="#1c1c1c" stroke-width="1.0" stroke-linecap="round"/>
<line x1="520.7" y1="204.9" x2="507.5" y2="214.4" stroke="#1c1c1c" stroke-width="1.0" stroke-linecap="round"/>
<line x1="507.5" y1="214.4" x2="495" y2="204.9" stroke="#1c1c1c" stroke-width="1.0" stroke-linecap="round"/>
<line x1="495" y1="204.9" x2="495" y2="190.6" stroke="#1c1c1c" stroke-width="1.0" stroke-linecap="round"/>
<line x1="495" y1="190.6" x2="507.5" y2="181.4" stroke="#1c1c1c" stroke-width="1.0" stroke-linecap="round"/>
<line x1="497.86" y1="191.33" x2="506.86" y2="184.7" stroke="#1c1c1c" stroke-width="1.0" stroke-linecap="round"/>
<line x1="518.4" y1="192.61" x2="518.4" y2="202.91" stroke="#1c1c1c" stroke-width="1.0" stroke-linecap="round"/>
<line x1="506.85" y1="211.05" x2="497.85" y2="204.21" stroke="#1c1c1c" stroke-width="1.0" stroke-linecap="round"/>
<line x1="507.5" y1="181.4" x2="507.5" y2="163" stroke="#1c1c1c" stroke-width="1.0" stroke-linecap="round"/>
<line x1="508.09" y1="162.01" x2="496.91" y2="155.37" stroke="#1c1c1c" stroke-width="1.0" stroke-linecap="round"/>
<line x1="506.91" y1="163.99" x2="495.74" y2="157.34" stroke="#1c1c1c" stroke-width="1.0" stroke-linecap="round"/>
<line x1="507.5" y1="163" x2="523.46" y2="152.79" stroke="#1c1c1c" stroke-width="1.0" stroke-linecap="round"/>
<text transform="translate(488.09,158.22) scale(0.88,1)" font-size="12" text-anchor="start" fill="#1c1c1c" stroke="#1c1c1c" stroke-width="0.25">O</text>
<text transform="translate(523.39,154.52) scale(0.88,1)" font-size="12" text-anchor="start" fill="#1c1c1c" stroke="#1c1c1c" stroke-width="0.25">OH</text>
<line x1="520.7" y1="190.6" x2="532.2" y2="183.8" stroke="#1c1c1c" stroke-width="1.0" stroke-linecap="round"/>
<text transform="translate(533.49,185.92) scale(0.88,1)" font-size="12" text-anchor="start" fill="#1c1c1c" stroke="#1c1c1c" stroke-width="0.25">CH<tspan font-size="8.64" dy="2.64">3</tspan></text>
<text transform="translate(511.9,227.63) scale(1,1.04)" font-size="8.7" text-anchor="middle" fill="#161616" stroke="#161616" stroke-width="0.2" >o-Toluic acid</text>
<text transform="translate(511.9,238.23) scale(1,1.04)" font-size="8.7" text-anchor="middle" fill="#161616" stroke="#161616" stroke-width="0.2" >(OTA)</text>
<line x1="602.4" y1="175.7" x2="613.8" y2="183.6" stroke="#1c1c1c" stroke-width="1.0" stroke-linecap="round"/>
<line x1="613.8" y1="183.6" x2="613.8" y2="195.9" stroke="#1c1c1c" stroke-width="1.0" stroke-linecap="round"/>
<line x1="613.8" y1="195.9" x2="602.4" y2="204.4" stroke="#1c1c1c" stroke-width="1.0" stroke-linecap="round"/>
<line x1="602.4" y1="204.4" x2="591.2" y2="195.9" stroke="#1c1c1c" stroke-width="1.0" stroke-linecap="round"/>
<line x1="591.2" y1="195.9" x2="591.2" y2="183.6" stroke="#1c1c1c" stroke-width="1.0" stroke-linecap="round"/>
<line x1="591.2" y1="183.6" x2="602.4" y2="175.7" stroke="#1c1c1c" stroke-width="1.0" stroke-linecap="round"/>
<line x1="593.88" y1="184.5" x2="601.95" y2="178.82" stroke="#1c1c1c" stroke-width="1.0" stroke-linecap="round"/>
<line x1="611.5" y1="185.34" x2="611.5" y2="194.2" stroke="#1c1c1c" stroke-width="1.0" stroke-linecap="round"/>
<line x1="601.94" y1="201.19" x2="593.88" y2="195.07" stroke="#1c1c1c" stroke-width="1.0" stroke-linecap="round"/>
<line x1="602.4" y1="175.7" x2="602.4" y2="160.7" stroke="#1c1c1c" stroke-width="1.0" stroke-linecap="round"/>
<line x1="602.98" y1="159.7" x2="593.71" y2="154.35" stroke="#1c1c1c" stroke-width="1.0" stroke-linecap="round"/>
<line x1="601.82" y1="161.7" x2="592.56" y2="156.34" stroke="#1c1c1c" stroke-width="1.0" stroke-linecap="round"/>
<line x1="602.4" y1="160.7" x2="614.02" y2="153.62" stroke="#1c1c1c" stroke-width="1.0" stroke-linecap="round"/>
<text transform="translate(586.11,156.97) scale(0.88,1)" font-size="10.2" text-anchor="start" fill="#1c1c1c" stroke="#1c1c1c" stroke-width="0.25">O</text>
<text transform="translate(614.01,155.17) scale(0.88,1)" font-size="10.2" text-anchor="start" fill="#1c1c1c" stroke="#1c1c1c" stroke-width="0.25">OH</text>
<line x1="613.8" y1="183.6" x2="622.49" y2="179.57" stroke="#1c1c1c" stroke-width="1.0" stroke-linecap="round"/>
<text transform="translate(622.81,181.47) scale(0.88,1)" font-size="10.2" text-anchor="start" fill="#1c1c1c" stroke="#1c1c1c" stroke-width="0.25">OH</text>
<line x1="591.2" y1="195.9" x2="578" y2="203.3" stroke="#1c1c1c" stroke-width="1.0" stroke-linecap="round"/>
<line x1="578" y1="203.3" x2="568.67" y2="196.96" stroke="#1c1c1c" stroke-width="1.0" stroke-linecap="round"/>
<text transform="translate(568.69,198.27) scale(0.88,1)" font-size="10.2" text-anchor="end" fill="#1c1c1c" stroke="#1c1c1c" stroke-width="0.25">HO</text>
<line x1="576.85" y1="203.23" x2="576.22" y2="213.34" stroke="#1c1c1c" stroke-width="1.0" stroke-linecap="round"/>
<line x1="579.15" y1="203.37" x2="578.51" y2="213.48" stroke="#1c1c1c" stroke-width="1.0" stroke-linecap="round"/>
<text transform="translate(573.61,221.27) scale(0.88,1)" font-size="10.2" text-anchor="start" fill="#1c1c1c" stroke="#1c1c1c" stroke-width="0.25">O</text>
<text transform="translate(596.9,229.53) scale(1,1.04)" font-size="8.7" text-anchor="middle" fill="#161616" stroke="#161616" stroke-width="0.2" >4-Hydroxy-1,3-</text>
<text transform="translate(596.9,239.93) scale(1,1.04)" font-size="8.7" text-anchor="middle" fill="#161616" stroke="#161616" stroke-width="0.2" >benzenedicarboxylic acid</text>
<text transform="translate(596.9,250.63) scale(1,1.04)" font-size="8.7" text-anchor="middle" fill="#161616" stroke="#161616" stroke-width="0.2" >(4HBDA)</text>
<line x1="666.1" y1="191.5" x2="678.9" y2="200.7" stroke="#1c1c1c" stroke-width="1.0" stroke-linecap="round"/>
<line x1="678.9" y1="200.7" x2="678.9" y2="215.2" stroke="#1c1c1c" stroke-width="1.0" stroke-linecap="round"/>
<line x1="678.9" y1="215.2" x2="666.1" y2="224.4" stroke="#1c1c1c" stroke-width="1.0" stroke-linecap="round"/>
<line x1="666.1" y1="224.4" x2="653.6" y2="215.2" stroke="#1c1c1c" stroke-width="1.0" stroke-linecap="round"/>
<line x1="653.6" y1="215.2" x2="653.6" y2="200.7" stroke="#1c1c1c" stroke-width="1.0" stroke-linecap="round"/>
<line x1="653.6" y1="200.7" x2="666.1" y2="191.5" stroke="#1c1c1c" stroke-width="1.0" stroke-linecap="round"/>
<line x1="656.44" y1="201.44" x2="665.44" y2="194.82" stroke="#1c1c1c" stroke-width="1.0" stroke-linecap="round"/>
<line x1="676.6" y1="202.73" x2="676.6" y2="213.17" stroke="#1c1c1c" stroke-width="1.0" stroke-linecap="round"/>
<line x1="665.44" y1="221.08" x2="656.44" y2="214.46" stroke="#1c1c1c" stroke-width="1.0" stroke-linecap="round"/>
<line x1="666.1" y1="191.5" x2="666.1" y2="173.5" stroke="#1c1c1c" stroke-width="1.0" stroke-linecap="round"/>
<line x1="666.68" y1="172.51" x2="656.12" y2="166.33" stroke="#1c1c1c" stroke-width="1.0" stroke-linecap="round"/>
<line x1="665.52" y1="174.49" x2="654.96" y2="168.32" stroke="#1c1c1c" stroke-width="1.0" stroke-linecap="round"/>
<line x1="666.1" y1="173.5" x2="680.06" y2="164.58" stroke="#1c1c1c" stroke-width="1.0" stroke-linecap="round"/>
<text transform="translate(647.29,169.22) scale(0.88,1)" font-size="12" text-anchor="start" fill="#1c1c1c" stroke="#1c1c1c" stroke-width="0.25">O</text>
<text transform="translate(679.99,166.32) scale(0.88,1)" font-size="12" text-anchor="start" fill="#1c1c1c" stroke="#1c1c1c" stroke-width="0.25">OH</text>
<line x1="678.9" y1="200.7" x2="692.7" y2="192.8" stroke="#1c1c1c" stroke-width="1.0" stroke-linecap="round"/>
<line x1="692.7" y1="192.8" x2="692.7" y2="178.33" stroke="#1c1c1c" stroke-width="1.0" stroke-linecap="round"/>
<text transform="translate(688.99,177.82) scale(0.88,1)" font-size="12" text-anchor="start" fill="#1c1c1c" stroke="#1c1c1c" stroke-width="0.25">OH</text>
<line x1="692.12" y1="193.8" x2="703.14" y2="200.18" stroke="#1c1c1c" stroke-width="1.0" stroke-linecap="round"/>
<line x1="693.28" y1="191.8" x2="704.3" y2="198.18" stroke="#1c1c1c" stroke-width="1.0" stroke-linecap="round"/>
<text transform="translate(703.79,205.92) scale(0.88,1)" font-size="12" text-anchor="start" fill="#1c1c1c" stroke="#1c1c1c" stroke-width="0.25">O</text>
<text transform="translate(676.6,237.23) scale(1,1.04)" font-size="8.7" text-anchor="middle" fill="#161616" stroke="#161616" stroke-width="0.2" >Phthalic acid</text>
<text transform="translate(676.6,247.83) scale(1,1.04)" font-size="8.7" text-anchor="middle" fill="#161616" stroke="#161616" stroke-width="0.2" >(PA)</text>
<line x1="750.8" y1="115.7" x2="763.6" y2="124.9" stroke="#1c1c1c" stroke-width="1.0" stroke-linecap="round"/>
<line x1="763.6" y1="124.9" x2="763.6" y2="139.2" stroke="#1c1c1c" stroke-width="1.0" stroke-linecap="round"/>
<line x1="763.6" y1="139.2" x2="750.8" y2="148" stroke="#1c1c1c" stroke-width="1.0" stroke-linecap="round"/>
<line x1="750.8" y1="148" x2="738.5" y2="139.2" stroke="#1c1c1c" stroke-width="1.0" stroke-linecap="round"/>
<line x1="738.5" y1="139.2" x2="738.5" y2="124.9" stroke="#1c1c1c" stroke-width="1.0" stroke-linecap="round"/>
<line x1="738.5" y1="124.9" x2="750.8" y2="115.7" stroke="#1c1c1c" stroke-width="1.0" stroke-linecap="round"/>
<line x1="741.32" y1="125.64" x2="750.17" y2="119.01" stroke="#1c1c1c" stroke-width="1.0" stroke-linecap="round"/>
<line x1="761.3" y1="126.89" x2="761.3" y2="137.19" stroke="#1c1c1c" stroke-width="1.0" stroke-linecap="round"/>
<line x1="750.18" y1="144.75" x2="741.32" y2="138.41" stroke="#1c1c1c" stroke-width="1.0" stroke-linecap="round"/>
<line x1="750.8" y1="115.7" x2="750.8" y2="97.9" stroke="#1c1c1c" stroke-width="1.0" stroke-linecap="round"/>
<line x1="751.37" y1="96.9" x2="740.47" y2="90.69" stroke="#1c1c1c" stroke-width="1.0" stroke-linecap="round"/>
<line x1="750.23" y1="98.9" x2="739.33" y2="92.69" stroke="#1c1c1c" stroke-width="1.0" stroke-linecap="round"/>
<line x1="750.8" y1="97.9" x2="762.17" y2="91.63" stroke="#1c1c1c" stroke-width="1.0" stroke-linecap="round"/>
<text transform="translate(731.59,93.62) scale(0.88,1)" font-size="12" text-anchor="start" fill="#1c1c1c" stroke="#1c1c1c" stroke-width="0.25">O</text>
<text transform="translate(762.29,93.62) scale(0.88,1)" font-size="12" text-anchor="start" fill="#1c1c1c" stroke="#1c1c1c" stroke-width="0.25">O</text>
<line x1="771.2" y1="90.7" x2="778" y2="93.2" stroke="#1c1c1c" stroke-width="1.0" stroke-linecap="round"/>
<text transform="translate(779.79,98.22) scale(0.88,1)" font-size="12" text-anchor="start" fill="#1c1c1c" stroke="#1c1c1c" stroke-width="0.25">CH<tspan font-size="8.64" dy="2.64">3</tspan></text>
<line x1="763.6" y1="124.9" x2="774.63" y2="119.06" stroke="#1c1c1c" stroke-width="1.0" stroke-linecap="round"/>
<text transform="translate(774.79,121.12) scale(0.88,1)" font-size="12" text-anchor="start" fill="#1c1c1c" stroke="#1c1c1c" stroke-width="0.25">OH</text>
<text transform="translate(751.3,157.93) scale(1,1.04)" font-size="8.7" text-anchor="middle" fill="#161616" stroke="#161616" stroke-width="0.2" >Methyl salicylate</text>
<text transform="translate(751.3,168.03) scale(1,1.04)" font-size="8.7" text-anchor="middle" fill="#161616" stroke="#161616" stroke-width="0.2" >(MSC)</text>
<line x1="908.7" y1="95.9" x2="920.6" y2="104.5" stroke="#1c1c1c" stroke-width="1.0" stroke-linecap="round"/>
<line x1="920.6" y1="104.5" x2="920.6" y2="118.3" stroke="#1c1c1c" stroke-width="1.0" stroke-linecap="round"/>
<line x1="920.6" y1="118.3" x2="908.7" y2="127.1" stroke="#1c1c1c" stroke-width="1.0" stroke-linecap="round"/>
<line x1="908.7" y1="127.1" x2="896.4" y2="118.3" stroke="#1c1c1c" stroke-width="1.0" stroke-linecap="round"/>
<line x1="896.4" y1="118.3" x2="896.4" y2="104.5" stroke="#1c1c1c" stroke-width="1.0" stroke-linecap="round"/>
<line x1="896.4" y1="104.5" x2="908.7" y2="95.9" stroke="#1c1c1c" stroke-width="1.0" stroke-linecap="round"/>
<line x1="899.21" y1="105.32" x2="908.06" y2="99.13" stroke="#1c1c1c" stroke-width="1.0" stroke-linecap="round"/>
<line x1="918.3" y1="106.44" x2="918.3" y2="116.37" stroke="#1c1c1c" stroke-width="1.0" stroke-linecap="round"/>
<line x1="908.06" y1="123.84" x2="899.21" y2="117.5" stroke="#1c1c1c" stroke-width="1.0" stroke-linecap="round"/>
<line x1="908.7" y1="95.9" x2="908.7" y2="79" stroke="#1c1c1c" stroke-width="1.0" stroke-linecap="round"/>
<line x1="909.29" y1="78.01" x2="898.71" y2="71.68" stroke="#1c1c1c" stroke-width="1.0" stroke-linecap="round"/>
<line x1="908.11" y1="79.99" x2="897.53" y2="73.65" stroke="#1c1c1c" stroke-width="1.0" stroke-linecap="round"/>
<line x1="908.7" y1="79" x2="923.09" y2="69.54" stroke="#1c1c1c" stroke-width="1.0" stroke-linecap="round"/>
<text transform="translate(889.89,74.52) scale(0.88,1)" font-size="12" text-anchor="start" fill="#1c1c1c" stroke="#1c1c1c" stroke-width="0.25">O</text>
<text transform="translate(922.99,71.22) scale(0.88,1)" font-size="12" text-anchor="start" fill="#1c1c1c" stroke="#1c1c1c" stroke-width="0.25">OH</text>
<line x1="920.6" y1="104.5" x2="931.7" y2="98.3" stroke="#1c1c1c" stroke-width="1.0" stroke-linecap="round"/>
<text transform="translate(933.09,100.82) scale(0.88,1)" font-size="12" text-anchor="start" fill="#1c1c1c" stroke="#1c1c1c" stroke-width="0.25">CH<tspan font-size="8.64" dy="2.64">3</tspan></text>
<line x1="896.4" y1="118.3" x2="886.17" y2="124.27" stroke="#1c1c1c" stroke-width="1.0" stroke-linecap="round"/>
<text transform="translate(886.11,131.02) scale(0.88,1)" font-size="12" text-anchor="end" fill="#1c1c1c" stroke="#1c1c1c" stroke-width="0.25">HO</text>
<text transform="translate(914.6,143.03) scale(1,1.04)" font-size="8.7" text-anchor="middle" fill="#161616" stroke="#161616" stroke-width="0.2" >5-Hydroxy-2-methylbenzoic</text>
<text transform="translate(914.6,153.73) scale(1,1.04)" font-size="8.7" text-anchor="middle" fill="#161616" stroke="#161616" stroke-width="0.2" >acid (5H2MBA)</text>
<line x1="991" y1="183.1" x2="1003.3" y2="191.9" stroke="#1c1c1c" stroke-width="1.0" stroke-linecap="round"/>
<line x1="1003.3" y1="191.9" x2="1003.3" y2="205.6" stroke="#1c1c1c" stroke-width="1.0" stroke-linecap="round"/>
<line x1="1003.3" y1="205.6" x2="991" y2="214.3" stroke="#1c1c1c" stroke-width="1.0" stroke-linecap="round"/>
<line x1="991" y1="214.3" x2="978.7" y2="205.6" stroke="#1c1c1c" stroke-width="1.0" stroke-linecap="round"/>
<line x1="978.7" y1="205.6" x2="978.7" y2="191.9" stroke="#1c1c1c" stroke-width="1.0" stroke-linecap="round"/>
<line x1="978.7" y1="191.9" x2="991" y2="183.1" stroke="#1c1c1c" stroke-width="1.0" stroke-linecap="round"/>
<line x1="981.53" y1="192.69" x2="990.38" y2="186.35" stroke="#1c1c1c" stroke-width="1.0" stroke-linecap="round"/>
<line x1="1001" y1="193.81" x2="1001" y2="203.68" stroke="#1c1c1c" stroke-width="1.0" stroke-linecap="round"/>
<line x1="990.38" y1="211.07" x2="981.53" y2="204.8" stroke="#1c1c1c" stroke-width="1.0" stroke-linecap="round"/>
<line x1="991" y1="183.1" x2="991" y2="165.3" stroke="#1c1c1c" stroke-width="1.0" stroke-linecap="round"/>
<line x1="991.57" y1="164.3" x2="981.05" y2="158.36" stroke="#1c1c1c" stroke-width="1.0" stroke-linecap="round"/>
<line x1="990.43" y1="166.3" x2="979.91" y2="160.36" stroke="#1c1c1c" stroke-width="1.0" stroke-linecap="round"/>
<line x1="991" y1="165.3" x2="1005.29" y2="155.93" stroke="#1c1c1c" stroke-width="1.0" stroke-linecap="round"/>
<text transform="translate(972.19,161.32) scale(0.88,1)" font-size="12" text-anchor="start" fill="#1c1c1c" stroke="#1c1c1c" stroke-width="0.25">O</text>
<text transform="translate(1005.19,157.62) scale(0.88,1)" font-size="12" text-anchor="start" fill="#1c1c1c" stroke="#1c1c1c" stroke-width="0.25">OH</text>
<line x1="1003.3" y1="205.6" x2="1013.7" y2="211.51" stroke="#1c1c1c" stroke-width="1.0" stroke-linecap="round"/>
<text transform="translate(1013.79,218.22) scale(0.88,1)" font-size="12" text-anchor="start" fill="#1c1c1c" stroke="#1c1c1c" stroke-width="0.25">OH</text>
<line x1="991" y1="214.3" x2="991" y2="227.07" stroke="#1c1c1c" stroke-width="1.0" stroke-linecap="round"/>
<text transform="translate(987.29,236.22) scale(0.88,1)" font-size="12" text-anchor="start" fill="#1c1c1c" stroke="#1c1c1c" stroke-width="0.25">OH</text>
<text transform="translate(999.2,246.93) scale(1,1.04)" font-size="8.7" text-anchor="middle" fill="#161616" stroke="#161616" stroke-width="0.2" >3,4-Dihydroxybenzoic acid</text>
<text transform="translate(999.2,257.43) scale(1,1.04)" font-size="8.7" text-anchor="middle" fill="#161616" stroke="#161616" stroke-width="0.2" >(protocatechuic acid, PCA)</text>
<line x1="798.4" y1="193.5" x2="808.5" y2="200.9" stroke="#1c1c1c" stroke-width="1.0" stroke-linecap="round"/>
<line x1="808.5" y1="200.9" x2="808.5" y2="211.9" stroke="#1c1c1c" stroke-width="1.0" stroke-linecap="round"/>
<line x1="808.5" y1="211.9" x2="798.4" y2="219.2" stroke="#1c1c1c" stroke-width="1.0" stroke-linecap="round"/>
<line x1="798.4" y1="219.2" x2="788.3" y2="211.9" stroke="#1c1c1c" stroke-width="1.0" stroke-linecap="round"/>
<line x1="788.3" y1="211.9" x2="788.3" y2="200.9" stroke="#1c1c1c" stroke-width="1.0" stroke-linecap="round"/>
<line x1="788.3" y1="200.9" x2="798.4" y2="193.5" stroke="#1c1c1c" stroke-width="1.0" stroke-linecap="round"/>
<line x1="790.82" y1="201.88" x2="798.09" y2="196.55" stroke="#1c1c1c" stroke-width="1.0" stroke-linecap="round"/>
<line x1="806.2" y1="202.44" x2="806.2" y2="210.36" stroke="#1c1c1c" stroke-width="1.0" stroke-linecap="round"/>
<line x1="798.1" y1="216.16" x2="790.82" y2="210.91" stroke="#1c1c1c" stroke-width="1.0" stroke-linecap="round"/>
<line x1="798.4" y1="193.5" x2="798.4" y2="178.9" stroke="#1c1c1c" stroke-width="1.0" stroke-linecap="round"/>
<line x1="798.95" y1="177.89" x2="790.81" y2="173.5" stroke="#1c1c1c" stroke-width="1.0" stroke-linecap="round"/>
<line x1="797.85" y1="179.91" x2="789.72" y2="175.52" stroke="#1c1c1c" stroke-width="1.0" stroke-linecap="round"/>
<line x1="798.4" y1="178.9" x2="811.83" y2="171.7" stroke="#1c1c1c" stroke-width="1.0" stroke-linecap="round"/>
<text transform="translate(784.02,176.04) scale(0.88,1)" font-size="9" text-anchor="start" fill="#1c1c1c" stroke="#1c1c1c" stroke-width="0.25">O</text>
<text transform="translate(811.92,173.24) scale(0.88,1)" font-size="9" text-anchor="start" fill="#1c1c1c" stroke="#1c1c1c" stroke-width="0.25">OH</text>
<line x1="808.5" y1="200.9" x2="817.59" y2="195.73" stroke="#1c1c1c" stroke-width="1.0" stroke-linecap="round"/>
<line x1="824.1" y1="195.56" x2="832.9" y2="200" stroke="#1c1c1c" stroke-width="1.0" stroke-linecap="round"/>
<line x1="831.9" y1="200" x2="831.9" y2="210.9" stroke="#1c1c1c" stroke-width="1.0" stroke-linecap="round"/>
<line x1="833.9" y1="200" x2="833.9" y2="210.9" stroke="#1c1c1c" stroke-width="1.0" stroke-linecap="round"/>
<line x1="832.9" y1="200" x2="844.3" y2="194.1" stroke="#1c1c1c" stroke-width="1.0" stroke-linecap="round"/>
<line x1="844.3" y1="194.1" x2="856.2" y2="200.5" stroke="#1c1c1c" stroke-width="1.0" stroke-linecap="round"/>
<line x1="856.2" y1="200.5" x2="868.5" y2="194.1" stroke="#1c1c1c" stroke-width="1.0" stroke-linecap="round"/>
<line x1="869.5" y1="194.1" x2="869.5" y2="184" stroke="#1c1c1c" stroke-width="1.0" stroke-linecap="round"/>
<line x1="867.5" y1="194.1" x2="867.5" y2="184" stroke="#1c1c1c" stroke-width="1.0" stroke-linecap="round"/>
<line x1="868.5" y1="194.1" x2="877.38" y2="199.09" stroke="#1c1c1c" stroke-width="1.0" stroke-linecap="round"/>
<line x1="883.85" y1="199.14" x2="892.6" y2="194.4" stroke="#1c1c1c" stroke-width="1.0" stroke-linecap="round"/>
<text transform="translate(817.72,197.14) scale(0.88,1)" font-size="9" text-anchor="start" fill="#1c1c1c" stroke="#1c1c1c" stroke-width="0.25">O</text>
<text transform="translate(829.82,217.84) scale(0.88,1)" font-size="9" text-anchor="start" fill="#1c1c1c" stroke="#1c1c1c" stroke-width="0.25">O</text>
<text transform="translate(865.42,183.54) scale(0.88,1)" font-size="9" text-anchor="start" fill="#1c1c1c" stroke="#1c1c1c" stroke-width="0.25">O</text>
<text transform="translate(877.52,204.14) scale(0.88,1)" font-size="9" text-anchor="start" fill="#1c1c1c" stroke="#1c1c1c" stroke-width="0.25">O</text>
<line x1="892.6" y1="194.4" x2="892.6" y2="182.5" stroke="#1c1c1c" stroke-width="1.0" stroke-linecap="round"/>
<line x1="892.6" y1="182.5" x2="902.5" y2="176.1" stroke="#1c1c1c" stroke-width="1.0" stroke-linecap="round"/>
<line x1="902.5" y1="176.1" x2="912.2" y2="182.5" stroke="#1c1c1c" stroke-width="1.0" stroke-linecap="round"/>
<line x1="912.2" y1="182.5" x2="912.2" y2="194.4" stroke="#1c1c1c" stroke-width="1.0" stroke-linecap="round"/>
<line x1="912.2" y1="194.4" x2="902.5" y2="200.9" stroke="#1c1c1c" stroke-width="1.0" stroke-linecap="round"/>
<line x1="902.5" y1="200.9" x2="892.6" y2="194.4" stroke="#1c1c1c" stroke-width="1.0" stroke-linecap="round"/>
<line x1="894.6" y1="192.74" x2="894.6" y2="184.17" stroke="#1c1c1c" stroke-width="1.0" stroke-linecap="round"/>
<line x1="902.91" y1="178.76" x2="909.9" y2="183.37" stroke="#1c1c1c" stroke-width="1.0" stroke-linecap="round"/>
<line x1="909.9" y1="193.55" x2="902.91" y2="198.23" stroke="#1c1c1c" stroke-width="1.0" stroke-linecap="round"/>
<line x1="902.5" y1="200.9" x2="902.5" y2="215.6" stroke="#1c1c1c" stroke-width="1.0" stroke-linecap="round"/>
<line x1="901.98" y1="216.46" x2="910.92" y2="221.85" stroke="#1c1c1c" stroke-width="1.0" stroke-linecap="round"/>
<line x1="903.02" y1="214.74" x2="911.95" y2="220.13" stroke="#1c1c1c" stroke-width="1.0" stroke-linecap="round"/>
<text transform="translate(911.52,226.14) scale(0.88,1)" font-size="9" text-anchor="start" fill="#1c1c1c" stroke="#1c1c1c" stroke-width="0.25">O</text>
<line x1="902.5" y1="215.6" x2="890.13" y2="223.34" stroke="#1c1c1c" stroke-width="1.0" stroke-linecap="round"/>
<text transform="translate(890.08,228.54) scale(0.88,1)" font-size="9" text-anchor="end" fill="#1c1c1c" stroke="#1c1c1c" stroke-width="0.25">HO</text>
<text transform="translate(848,237.53) scale(1,1.04)" font-size="8.7" text-anchor="middle" fill="#161616" stroke="#161616" stroke-width="0.2" >Disalicyl succinate (DSS)</text>
<line x1="1084.2" y1="167.5" x2="1099" y2="176.5" stroke="#1c1c1c" stroke-width="1.0" stroke-linecap="round"/>
<line x1="1099" y1="176.5" x2="1099" y2="193.8" stroke="#1c1c1c" stroke-width="1.0" stroke-linecap="round"/>
<line x1="1069.5" y1="193.8" x2="1069.5" y2="176.5" stroke="#1c1c1c" stroke-width="1.0" stroke-linecap="round"/>
<line x1="1069.5" y1="176.5" x2="1084.2" y2="167.5" stroke="#1c1c1c" stroke-width="1.0" stroke-linecap="round"/>
<line x1="1099" y1="193.8" x2="1086.79" y2="201.8" stroke="#1c1c1c" stroke-width="1.0" stroke-linecap="round"/>
<line x1="1069.5" y1="193.8" x2="1081.61" y2="201.79" stroke="#1c1c1c" stroke-width="1.0" stroke-linecap="round"/>
<line x1="1085.15" y1="170.77" x2="1095.8" y2="177.25" stroke="#1c1c1c" stroke-width="1.0" stroke-linecap="round"/>
<line x1="1071.8" y1="191.39" x2="1071.8" y2="178.93" stroke="#1c1c1c" stroke-width="1.0" stroke-linecap="round"/>
<line x1="1095.82" y1="193.14" x2="1086.42" y2="199.3" stroke="#1c1c1c" stroke-width="1.0" stroke-linecap="round"/>
<line x1="1084.2" y1="167.5" x2="1084.2" y2="150.1" stroke="#1c1c1c" stroke-width="1.0" stroke-linecap="round"/>
<line x1="1084.8" y1="149.12" x2="1072.25" y2="141.52" stroke="#1c1c1c" stroke-width="1.0" stroke-linecap="round"/>
<line x1="1083.6" y1="151.08" x2="1071.06" y2="143.49" stroke="#1c1c1c" stroke-width="1.0" stroke-linecap="round"/>
<line x1="1084.2" y1="150.1" x2="1096.94" y2="142.49" stroke="#1c1c1c" stroke-width="1.0" stroke-linecap="round"/>
<text transform="translate(1066.81,143.2) scale(0.88,1)" font-size="6.4" text-anchor="start" fill="#1c1c1c" stroke="#1c1c1c" stroke-width="0.25">O</text>
<text transform="translate(1097.41,143.2) scale(0.88,1)" font-size="6.4" text-anchor="start" fill="#1c1c1c" stroke="#1c1c1c" stroke-width="0.25">OH</text>
<text transform="translate(1082.17,205.8) scale(0.88,1)" font-size="6.4" text-anchor="start" fill="#1c1c1c" stroke="#1c1c1c" stroke-width="0.25">N</text>
<line x1="1069.5" y1="193.8" x2="1056" y2="201.3" stroke="#1c1c1c" stroke-width="1.0" stroke-linecap="round"/>
<line x1="1099" y1="193.8" x2="1111.5" y2="201.3" stroke="#1c1c1c" stroke-width="1.0" stroke-linecap="round"/>
<text transform="translate(1047.97,205.8) scale(0.88,1)" font-size="6.4" text-anchor="start" fill="#1c1c1c" stroke="#1c1c1c" stroke-width="0.25">Cl</text>
<text transform="translate(1112.57,205.8) scale(0.88,1)" font-size="6.4" text-anchor="start" fill="#1c1c1c" stroke="#1c1c1c" stroke-width="0.25">Cl</text>
<text transform="translate(1086.3,223.93) scale(1,1.04)" font-size="8.7" text-anchor="middle" fill="#161616" stroke="#161616" stroke-width="0.2" >2,6-Dichloroisonicotinic acid</text>
<text transform="translate(1086.7,235.03) scale(1,1.04)" font-size="8.7" text-anchor="middle" fill="#161616" stroke="#161616" stroke-width="0.2" >(INA)</text>
<line x1="1153.9" y1="164.9" x2="1169.2" y2="172.7" stroke="#1c1c1c" stroke-width="1.0" stroke-linecap="round"/>
<line x1="1169.2" y1="172.7" x2="1169.2" y2="188.8" stroke="#1c1c1c" stroke-width="1.0" stroke-linecap="round"/>
<line x1="1169.2" y1="188.8" x2="1153.9" y2="196.6" stroke="#1c1c1c" stroke-width="1.0" stroke-linecap="round"/>
<line x1="1153.9" y1="196.6" x2="1140" y2="188.8" stroke="#1c1c1c" stroke-width="1.0" stroke-linecap="round"/>
<line x1="1140" y1="188.8" x2="1140" y2="172.7" stroke="#1c1c1c" stroke-width="1.0" stroke-linecap="round"/>
<line x1="1140" y1="172.7" x2="1153.9" y2="164.9" stroke="#1c1c1c" stroke-width="1.0" stroke-linecap="round"/>
<line x1="1154.86" y1="167.96" x2="1165.87" y2="173.58" stroke="#1c1c1c" stroke-width="1.0" stroke-linecap="round"/>
<line x1="1165.87" y1="187.92" x2="1154.86" y2="193.54" stroke="#1c1c1c" stroke-width="1.0" stroke-linecap="round"/>
<line x1="1142.3" y1="186.55" x2="1142.3" y2="174.95" stroke="#1c1c1c" stroke-width="1.0" stroke-linecap="round"/>
<line x1="1169.2" y1="172.7" x2="1180.02" y2="168.74" stroke="#1c1c1c" stroke-width="1.0" stroke-linecap="round"/>
<line x1="1185.38" y1="170.27" x2="1191.1" y2="178.28" stroke="#1c1c1c" stroke-width="1.0" stroke-linecap="round"/>
<line x1="1190.29" y1="182.75" x2="1184.88" y2="190.39" stroke="#1c1c1c" stroke-width="1.0" stroke-linecap="round"/>
<line x1="1191.92" y1="183.91" x2="1186.51" y2="191.55" stroke="#1c1c1c" stroke-width="1.0" stroke-linecap="round"/>
<line x1="1180.66" y1="192.46" x2="1169.2" y2="188.8" stroke="#1c1c1c" stroke-width="1.0" stroke-linecap="round"/>
<text transform="translate(1181.52,169.8) scale(0.88,1)" font-size="6.4" text-anchor="start" fill="#1c1c1c" stroke="#1c1c1c" stroke-width="0.25">S</text>
<text transform="translate(1190.87,183.1) scale(0.88,1)" font-size="6.4" text-anchor="start" fill="#1c1c1c" stroke="#1c1c1c" stroke-width="0.25">N</text>
<text transform="translate(1181.87,195.8) scale(0.88,1)" font-size="6.4" text-anchor="start" fill="#1c1c1c" stroke="#1c1c1c" stroke-width="0.25">N</text>
<line x1="1153.9" y1="164.9" x2="1153.9" y2="148.4" stroke="#1c1c1c" stroke-width="1.0" stroke-linecap="round"/>
<line x1="1154.47" y1="147.4" x2="1142.96" y2="140.84" stroke="#1c1c1c" stroke-width="1.0" stroke-linecap="round"/>
<line x1="1153.33" y1="149.4" x2="1141.82" y2="142.83" stroke="#1c1c1c" stroke-width="1.0" stroke-linecap="round"/>
<line x1="1153.9" y1="148.4" x2="1165.41" y2="141.84" stroke="#1c1c1c" stroke-width="1.0" stroke-linecap="round"/>
<text transform="translate(1137.51,142.6) scale(0.88,1)" font-size="6.4" text-anchor="start" fill="#1c1c1c" stroke="#1c1c1c" stroke-width="0.25">O</text>
<text transform="translate(1166.22,142.6) scale(0.88,1)" font-size="6.4" text-anchor="start" fill="#1c1c1c" stroke="#1c1c1c" stroke-width="0.25">S</text>
<line x1="1171.4" y1="141" x2="1180.6" y2="143.7" stroke="#1c1c1c" stroke-width="1.0" stroke-linecap="round"/>
<text transform="translate(1182.33,146.32) scale(0.88,1)" font-size="5.89" text-anchor="start" fill="#1c1c1c" stroke="#1c1c1c" stroke-width="0.25">CH<tspan font-size="4.24" dy="1.3">3</tspan></text>
<text transform="translate(1166,212.53) scale(1,1.04)" font-size="8.7" text-anchor="middle" fill="#161616" stroke="#161616" stroke-width="0.2" >Benzothiadiazole</text>
<text transform="translate(1166,222.93) scale(1,1.04)" font-size="8.7" text-anchor="middle" fill="#161616" stroke="#161616" stroke-width="0.2" >(BTH)</text>
<text transform="translate(13.8,351.5) scale(1,1)" font-size="21.5" text-anchor="start" fill="#111111" stroke="#111111" stroke-width="0.22" >b</text>
<line x1="64.1" y1="352.7" x2="64.1" y2="629" stroke="#555" stroke-width="1.2" />
<line x1="51.1" y1="628.4" x2="64.1" y2="628.4" stroke="#555" stroke-width="1.2" />
<text transform="translate(48.4,635.6) scale(1,1.04)" font-size="18.6" text-anchor="end" fill="#111111" stroke="#111111" stroke-width="0.22" >0</text>
<line x1="51.1" y1="536.7" x2="64.1" y2="536.7" stroke="#555" stroke-width="1.2" />
<text transform="translate(48.4,543.9) scale(1,1.04)" font-size="18.6" text-anchor="end" fill="#111111" stroke="#111111" stroke-width="0.22" >2</text>
<line x1="51.1" y1="445" x2="64.1" y2="445" stroke="#555" stroke-width="1.2" />
<text transform="translate(48.4,452.2) scale(1,1.04)" font-size="18.6" text-anchor="end" fill="#111111" stroke="#111111" stroke-width="0.22" >4</text>
<line x1="51.1" y1="353.3" x2="64.1" y2="353.3" stroke="#555" stroke-width="1.2" />
<text transform="translate(48.4,360.5) scale(1,1.04)" font-size="18.6" text-anchor="end" fill="#111111" stroke="#111111" stroke-width="0.22" >6</text>
<line x1="51.1" y1="628.4" x2="332.35" y2="628.4" stroke="#555" stroke-width="1.2" />
<line x1="64" y1="628.4" x2="64" y2="641.4" stroke="#555" stroke-width="1.2" />
<text transform="translate(64,657.2) scale(1,1.04)" font-size="18.1" text-anchor="middle" fill="#111111" stroke="#111111" stroke-width="0.22" >0.01</text>
<line x1="117.55" y1="628.4" x2="117.55" y2="641.4" stroke="#555" stroke-width="1.2" />
<text transform="translate(117.55,657.2) scale(1,1.04)" font-size="18.1" text-anchor="middle" fill="#111111" stroke="#111111" stroke-width="0.22" >0.1</text>
<line x1="171.1" y1="628.4" x2="171.1" y2="641.4" stroke="#555" stroke-width="1.2" />
<text transform="translate(171.1,657.2) scale(1,1.04)" font-size="18.1" text-anchor="middle" fill="#111111" stroke="#111111" stroke-width="0.22" >1</text>
<line x1="224.65" y1="628.4" x2="224.65" y2="641.4" stroke="#555" stroke-width="1.2" />
<text transform="translate(224.65,657.2) scale(1,1.04)" font-size="18.1" text-anchor="middle" fill="#111111" stroke="#111111" stroke-width="0.22" >10</text>
<line x1="278.2" y1="628.4" x2="278.2" y2="641.4" stroke="#555" stroke-width="1.2" />
<text transform="translate(278.2,657.2) scale(1,1.04)" font-size="18.1" text-anchor="middle" fill="#111111" stroke="#111111" stroke-width="0.22" >100</text>
<line x1="331.75" y1="628.4" x2="331.75" y2="641.4" stroke="#555" stroke-width="1.2" />
<text transform="translate(331.75,657.2) scale(1,1.04)" font-size="18.1" text-anchor="middle" fill="#111111" stroke="#111111" stroke-width="0.22" >1000</text>
<text transform="translate(204.8,674.2) scale(1,1.04)" font-size="17.9" text-anchor="middle" fill="#111111" stroke="#111111" stroke-width="0.22" >Conc. (µmol/L)</text>
<text transform="translate(30.4,496.7) rotate(-90) scale(1,1.04)" font-size="17.9" text-anchor="middle" fill="#111111" stroke="#111111" stroke-width="0.22">RLU (x10<tspan font-size="10.5" dy="-6">6</tspan><tspan dy="6">)</tspan></text>
<polyline points="64,625.3 331.75,625.3" fill="none" stroke="#1a1a1a" stroke-width="1.15"/>
<polyline points="64,625.3 272.84,625.3 315.69,628.3 331.75,628.3" fill="none" stroke="#1a1a1a" stroke-width="1.15"/>
<polyline points="64,623.31 65.34,623.3 66.68,623.3 68.02,623.3 69.36,623.29 70.69,623.29 72.03,623.29 73.37,623.28 74.71,623.28 76.05,623.28 77.39,623.27 78.73,623.27 80.06,623.26 81.4,623.26 82.74,623.25 84.08,623.25 85.42,623.24 86.76,623.23 88.1,623.23 89.44,623.22 90.78,623.21 92.11,623.2 93.45,623.19 94.79,623.19 96.13,623.18 97.47,623.17 98.81,623.16 100.15,623.15 101.48,623.13 102.82,623.12 104.16,623.11 105.5,623.1 106.84,623.08 108.18,623.07 109.52,623.05 110.86,623.03 112.19,623.02 113.53,623 114.87,622.98 116.21,622.96 117.55,622.94 118.89,622.91 120.23,622.89 121.57,622.86 122.91,622.84 124.24,622.81 125.58,622.78 126.92,622.75 128.26,622.71 129.6,622.68 130.94,622.64 132.28,622.6 133.62,622.56 134.95,622.52 136.29,622.47 137.63,622.43 138.97,622.38 140.31,622.32 141.65,622.27 142.99,622.21 144.32,622.14 145.66,622.08 147,622.01 148.34,621.94 149.68,621.86 151.02,621.78 152.36,621.69 153.7,621.6 155.03,621.51 156.37,621.41 157.71,621.3 159.05,621.19 160.39,621.07 161.73,620.95 163.07,620.82 164.41,620.69 165.75,620.54 167.08,620.39 168.42,620.23 169.76,620.06 171.1,619.88 172.44,619.7 173.78,619.5 175.12,619.3 176.45,619.08 177.79,618.85 179.13,618.61 180.47,618.36 181.81,618.09 183.15,617.81 184.49,617.51 185.83,617.2 187.16,616.88 188.5,616.53 189.84,616.17 191.18,615.8 192.52,615.4 193.86,614.98 195.2,614.54 196.54,614.08 197.88,613.6 199.21,613.09 200.55,612.55 201.89,611.99 203.23,611.41 204.57,610.79 205.91,610.15 207.25,609.47 208.59,608.76 209.92,608.02 211.26,607.24 212.6,606.43 213.94,605.58 215.28,604.69 216.62,603.76 217.96,602.79 219.29,601.78 220.63,600.72 221.97,599.61 223.31,598.46 224.65,597.26 225.99,596.01 227.33,594.71 228.67,593.35 230,591.95 231.34,590.48 232.68,588.96 234.02,587.39 235.36,585.76 236.7,584.06 238.04,582.31 239.38,580.5 240.71,578.63 242.05,576.69 243.39,574.7 244.73,572.65 246.07,570.53 247.41,568.36 248.75,566.12 250.09,563.83 251.42,561.47 252.76,559.07 254.1,556.6 255.44,554.09 256.78,551.52 258.12,548.9 259.46,546.23 260.8,543.52 262.13,540.77 263.47,537.98 264.81,535.15 266.15,532.3 267.49,529.41 268.83,526.5 270.17,523.56 271.51,520.61 272.84,517.65 274.18,514.68 275.52,511.7 276.86,508.72 278.2,505.75 279.54,502.78 280.88,499.83 282.22,496.89 283.55,493.97 284.89,491.08 286.23,488.21 287.57,485.37 288.91,482.57 290.25,479.81 291.59,477.08 292.93,474.41 294.26,471.77 295.6,469.19 296.94,466.66 298.28,464.18 299.62,461.75 300.96,459.38 302.3,457.07 303.64,454.82 304.98,452.62 306.31,450.49 307.65,448.42 308.99,446.41 310.33,444.45 311.67,442.56 313.01,440.73 314.35,438.96 315.69,437.25 317.02,435.6 318.36,434.01 319.7,432.47 321.04,430.99 322.38,429.57 323.72,428.2 325.06,426.88 326.39,425.62 327.73,424.4 329.07,423.24 330.41,422.12 331.75,421.04" fill="none" stroke="#1a1a1a" stroke-width="1.1"/>
<circle cx="64" cy="625.6" r="4.9" fill="#3db54a"/>
<circle cx="117.55" cy="625.6" r="4.9" fill="#3db54a"/>
<circle cx="171.1" cy="625.6" r="4.9" fill="#3db54a"/>
<circle cx="208.53" cy="625.6" r="4.9" fill="#3db54a"/>
<circle cx="224.65" cy="625.6" r="4.9" fill="#3db54a"/>
<circle cx="245.96" cy="625.6" r="4.9" fill="#3db54a"/>
<circle cx="262.08" cy="625.6" r="4.9" fill="#3db54a"/>
<circle cx="278.2" cy="625.6" r="4.9" fill="#3db54a"/>
<circle cx="299.51" cy="627.3" r="4.9" fill="#3db54a"/>
<circle cx="315.63" cy="628.8" r="4.9" fill="#3db54a"/>
<circle cx="331.75" cy="628.8" r="4.9" fill="#3db54a"/>
<polygon points="58.8,630.5 69.2,630.5 64,620.5" fill="#ee3124"/>
<polygon points="112.35,630.5 122.75,630.5 117.55,620.5" fill="#ee3124"/>
<polygon points="165.9,630.5 176.3,630.5 171.1,620.5" fill="#ee3124"/>
<polygon points="203.33,630.5 213.73,630.5 208.53,620.5" fill="#ee3124"/>
<polygon points="219.45,630.5 229.85,630.5 224.65,620.5" fill="#ee3124"/>
<polygon points="240.76,630.5 251.16,630.5 245.96,620.5" fill="#ee3124"/>
<polygon points="256.88,630.5 267.28,630.5 262.08,620.5" fill="#ee3124"/>
<polygon points="273,630.5 283.4,630.5 278.2,620.5" fill="#ee3124"/>
<polygon points="294.31,630.6 304.71,630.6 299.51,620.6" fill="#ee3124"/>
<polygon points="310.43,631.4 320.83,631.4 315.63,621.4" fill="#ee3124"/>
<polygon points="326.55,631.4 336.95,631.4 331.75,621.4" fill="#ee3124"/>
<line x1="245.96" y1="565.2" x2="245.96" y2="581.2" stroke="#fbaa27" stroke-width="1.0" />
<line x1="240.96" y1="565.2" x2="250.96" y2="565.2" stroke="#fbaa27" stroke-width="1.0" />
<line x1="240.96" y1="581.2" x2="250.96" y2="581.2" stroke="#fbaa27" stroke-width="1.0" />
<line x1="262.08" y1="539.9" x2="262.08" y2="560.7" stroke="#fbaa27" stroke-width="1.0" />
<line x1="257.08" y1="539.9" x2="267.08" y2="539.9" stroke="#fbaa27" stroke-width="1.0" />
<line x1="257.08" y1="560.7" x2="267.08" y2="560.7" stroke="#fbaa27" stroke-width="1.0" />
<line x1="278.2" y1="481.6" x2="278.2" y2="526.4" stroke="#fbaa27" stroke-width="1.0" />
<line x1="273.2" y1="481.6" x2="283.2" y2="481.6" stroke="#fbaa27" stroke-width="1.0" />
<line x1="273.2" y1="526.4" x2="283.2" y2="526.4" stroke="#fbaa27" stroke-width="1.0" />
<line x1="299.51" y1="453.4" x2="299.51" y2="474.4" stroke="#fbaa27" stroke-width="1.0" />
<line x1="294.51" y1="453.4" x2="304.51" y2="453.4" stroke="#fbaa27" stroke-width="1.0" />
<line x1="294.51" y1="474.4" x2="304.51" y2="474.4" stroke="#fbaa27" stroke-width="1.0" />
<line x1="315.63" y1="410.3" x2="315.63" y2="436.4" stroke="#fbaa27" stroke-width="1.0" />
<line x1="310.63" y1="410.3" x2="320.63" y2="410.3" stroke="#fbaa27" stroke-width="1.0" />
<line x1="310.63" y1="436.4" x2="320.63" y2="436.4" stroke="#fbaa27" stroke-width="1.0" />
<line x1="331.75" y1="410.3" x2="331.75" y2="451.4" stroke="#fbaa27" stroke-width="1.0" />
<line x1="326.75" y1="410.3" x2="336.75" y2="410.3" stroke="#fbaa27" stroke-width="1.0" />
<line x1="326.75" y1="451.4" x2="336.75" y2="451.4" stroke="#fbaa27" stroke-width="1.0" />
<rect x="59" y="620.19" width="10" height="10" fill="#fbaa27"/>
<rect x="112.55" y="619.96" width="10" height="10" fill="#fbaa27"/>
<rect x="166.1" y="619.27" width="10" height="10" fill="#fbaa27"/>
<rect x="203.53" y="602.77" width="10" height="10" fill="#fbaa27"/>
<rect x="219.65" y="580.76" width="10" height="10" fill="#fbaa27"/>
<rect x="240.96" y="568.84" width="10" height="10" fill="#fbaa27"/>
<rect x="257.08" y="545.45" width="10" height="10" fill="#fbaa27"/>
<rect x="273.2" y="499.15" width="10" height="10" fill="#fbaa27"/>
<rect x="294.51" y="459.26" width="10" height="10" fill="#fbaa27"/>
<rect x="310.63" y="418.45" width="10" height="10" fill="#fbaa27"/>
<rect x="326.75" y="426.25" width="10" height="10" fill="#fbaa27"/>
<line x1="75.6" y1="356.2" x2="112" y2="356.2" stroke="#5c5c5c" stroke-width="1.25" />
<rect x="88.3" y="350.9" width="10.6" height="10.6" fill="#fbaa27"/>
<text transform="translate(126.6,362.6) scale(1,1.04)" font-size="14.2" text-anchor="start" fill="#111111" stroke="#111111" stroke-width="0.22" textLength="59.6" lengthAdjust="spacingAndGlyphs" >2,3DHBA</text>
<line x1="75.6" y1="383.5" x2="112" y2="383.5" stroke="#222" stroke-width="1.25" />
<polygon points="88.2,388.5 99,388.5 93.6,378.5" fill="#ee3124"/>
<text transform="translate(126.6,389.9) scale(1,1.04)" font-size="14.2" text-anchor="start" fill="#111111" stroke="#111111" stroke-width="0.22" textLength="59.6" lengthAdjust="spacingAndGlyphs" >2,5DHBA</text>
<line x1="75.6" y1="409.7" x2="112" y2="409.7" stroke="#5c5c5c" stroke-width="1.25" />
<circle cx="93.6" cy="409.7" r="5.2" fill="#3db54a"/>
<text transform="translate(126.6,415.9) scale(1,1.04)" font-size="14.2" text-anchor="start" fill="#111111" stroke="#111111" stroke-width="0.22" textLength="29.6" lengthAdjust="spacingAndGlyphs" >GSA</text>
<text transform="translate(361.3,355.1) scale(1,1)" font-size="22.5" text-anchor="start" fill="#111111" stroke="#111111" stroke-width="0.22" >c</text>
<line x1="407.7" y1="355.4" x2="407.7" y2="630.8" stroke="#222" stroke-width="1.2" />
<line x1="394.7" y1="630.2" x2="407.7" y2="630.2" stroke="#222" stroke-width="1.2" />
<text transform="translate(391.4,637.4) scale(1,1.04)" font-size="18.6" text-anchor="end" fill="#111111" stroke="#111111" stroke-width="0.22" >0</text>
<line x1="394.7" y1="538.8" x2="407.7" y2="538.8" stroke="#222" stroke-width="1.2" />
<text transform="translate(391.4,546) scale(1,1.04)" font-size="18.6" text-anchor="end" fill="#111111" stroke="#111111" stroke-width="0.22" >2</text>
<line x1="394.7" y1="447.4" x2="407.7" y2="447.4" stroke="#222" stroke-width="1.2" />
<text transform="translate(391.4,454.6) scale(1,1.04)" font-size="18.6" text-anchor="end" fill="#111111" stroke="#111111" stroke-width="0.22" >4</text>
<line x1="394.7" y1="356" x2="407.7" y2="356" stroke="#222" stroke-width="1.2" />
<text transform="translate(391.4,363.2) scale(1,1.04)" font-size="18.6" text-anchor="end" fill="#111111" stroke="#111111" stroke-width="0.22" >6</text>
<line x1="394.7" y1="630.2" x2="675.9" y2="630.2" stroke="#222" stroke-width="1.2" />
<line x1="407.8" y1="630.2" x2="407.8" y2="643.2" stroke="#222" stroke-width="1.2" />
<text transform="translate(407.8,659.5) scale(1,1.04)" font-size="18.1" text-anchor="middle" fill="#111111" stroke="#111111" stroke-width="0.22" >0.01</text>
<line x1="461.3" y1="630.2" x2="461.3" y2="643.2" stroke="#222" stroke-width="1.2" />
<text transform="translate(461.3,659.5) scale(1,1.04)" font-size="18.1" text-anchor="middle" fill="#111111" stroke="#111111" stroke-width="0.22" >0.1</text>
<line x1="514.8" y1="630.2" x2="514.8" y2="643.2" stroke="#222" stroke-width="1.2" />
<text transform="translate(514.8,659.5) scale(1,1.04)" font-size="18.1" text-anchor="middle" fill="#111111" stroke="#111111" stroke-width="0.22" >1</text>
<line x1="568.3" y1="630.2" x2="568.3" y2="643.2" stroke="#222" stroke-width="1.2" />
<text transform="translate(568.3,659.5) scale(1,1.04)" font-size="18.1" text-anchor="middle" fill="#111111" stroke="#111111" stroke-width="0.22" >10</text>
<line x1="621.8" y1="630.2" x2="621.8" y2="643.2" stroke="#222" stroke-width="1.2" />
<text transform="translate(621.8,659.5) scale(1,1.04)" font-size="18.1" text-anchor="middle" fill="#111111" stroke="#111111" stroke-width="0.22" >100</text>
<line x1="675.3" y1="630.2" x2="675.3" y2="643.2" stroke="#222" stroke-width="1.2" />
<text transform="translate(675.3,659.5) scale(1,1.04)" font-size="18.1" text-anchor="middle" fill="#111111" stroke="#111111" stroke-width="0.22" >1000</text>
<text transform="translate(542,674.8) scale(1,1.04)" font-size="17.9" text-anchor="middle" fill="#111111" stroke="#111111" stroke-width="0.22" >Conc. (µmol/L)</text>
<text transform="translate(376,498) rotate(-90) scale(1,1.04)" font-size="17.9" text-anchor="middle" fill="#111111" stroke="#111111" stroke-width="0.22">RLU (x10<tspan font-size="10.5" dy="-6">6</tspan><tspan dy="6">)</tspan></text>
<polyline points="407.8,626.7 675.3,626.7" fill="none" stroke="#1a1a1a" stroke-width="1.15"/>
<polyline points="407.8,627.5 675.3,627.5" fill="none" stroke="#1a1a1a" stroke-width="1.15"/>
<polyline points="407.8,621.61 409.14,621.61 410.48,621.61 411.81,621.61 413.15,621.61 414.49,621.61 415.82,621.61 417.16,621.61 418.5,621.61 419.84,621.61 421.18,621.61 422.51,621.61 423.85,621.61 425.19,621.61 426.53,621.61 427.86,621.61 429.2,621.61 430.54,621.61 431.88,621.61 433.21,621.61 434.55,621.61 435.89,621.61 437.23,621.61 438.56,621.61 439.9,621.61 441.24,621.61 442.57,621.61 443.91,621.61 445.25,621.61 446.59,621.61 447.93,621.61 449.26,621.6 450.6,621.6 451.94,621.6 453.28,621.6 454.61,621.6 455.95,621.6 457.29,621.6 458.62,621.6 459.96,621.6 461.3,621.6 462.64,621.6 463.98,621.6 465.31,621.6 466.65,621.6 467.99,621.6 469.32,621.59 470.66,621.59 472,621.59 473.34,621.59 474.68,621.59 476.01,621.59 477.35,621.58 478.69,621.58 480.03,621.58 481.36,621.58 482.7,621.57 484.04,621.57 485.38,621.57 486.71,621.56 488.05,621.56 489.39,621.55 490.73,621.55 492.06,621.54 493.4,621.53 494.74,621.53 496.07,621.52 497.41,621.51 498.75,621.5 500.09,621.49 501.43,621.48 502.76,621.47 504.1,621.46 505.44,621.44 506.78,621.43 508.11,621.41 509.45,621.39 510.79,621.37 512.12,621.35 513.46,621.32 514.8,621.29 516.14,621.26 517.48,621.23 518.81,621.19 520.15,621.16 521.49,621.11 522.83,621.07 524.16,621.01 525.5,620.96 526.84,620.9 528.17,620.83 529.51,620.75 530.85,620.67 532.19,620.58 533.52,620.49 534.86,620.38 536.2,620.27 537.54,620.14 538.88,620 540.21,619.85 541.55,619.68 542.89,619.5 544.23,619.3 545.56,619.09 546.9,618.85 548.24,618.59 549.58,618.31 550.91,618 552.25,617.67 553.59,617.3 554.92,616.9 556.26,616.46 557.6,615.99 558.94,615.47 560.27,614.91 561.61,614.29 562.95,613.63 564.29,612.9 565.62,612.12 566.96,611.26 568.3,610.34 569.64,609.33 570.98,608.25 572.31,607.07 573.65,605.81 574.99,604.44 576.33,602.97 577.66,601.38 579,599.68 580.34,597.86 581.67,595.91 583.01,593.82 584.35,591.6 585.69,589.24 587.02,586.73 588.36,584.07 589.7,581.26 591.04,578.31 592.38,575.21 593.71,571.96 595.05,568.57 596.39,565.04 597.73,561.38 599.06,557.6 600.4,553.71 601.74,549.73 603.08,545.65 604.41,541.51 605.75,537.31 607.09,533.07 608.42,528.81 609.76,524.55 611.1,520.3 612.44,516.08 613.77,511.9 615.11,507.8 616.45,503.77 617.79,499.83 619.12,496 620.46,492.28 621.8,488.69 623.14,485.24 624.48,481.92 625.81,478.75 627.15,475.72 628.49,472.85 629.83,470.12 631.16,467.54 632.5,465.11 633.84,462.82 635.17,460.67 636.51,458.66 637.85,456.78 639.19,455.02 640.52,453.38 641.86,451.86 643.2,450.44 644.54,449.13 645.88,447.91 647.21,446.79 648.55,445.74 649.89,444.78 651.23,443.9 652.56,443.08 653.9,442.32 655.24,441.63 656.58,440.99 657.91,440.41 659.25,439.87 660.59,439.37 661.92,438.92 663.26,438.5 664.6,438.12 665.94,437.77 667.27,437.45 668.61,437.16 669.95,436.89 671.29,436.64 672.62,436.41 673.96,436.21 675.3,436.02" fill="none" stroke="#1a1a1a" stroke-width="1.1"/>
<circle cx="407.8" cy="627.3" r="4.9" fill="#3db54a"/>
<circle cx="461.3" cy="627.3" r="4.9" fill="#3db54a"/>
<circle cx="514.8" cy="627.3" r="4.9" fill="#3db54a"/>
<circle cx="552.19" cy="627.3" r="4.9" fill="#3db54a"/>
<circle cx="568.3" cy="627.3" r="4.9" fill="#3db54a"/>
<circle cx="589.59" cy="627.3" r="4.9" fill="#3db54a"/>
<circle cx="605.69" cy="627.3" r="4.9" fill="#3db54a"/>
<circle cx="621.8" cy="627.3" r="4.9" fill="#3db54a"/>
<circle cx="643.09" cy="627.3" r="4.9" fill="#3db54a"/>
<circle cx="659.19" cy="627.3" r="4.9" fill="#3db54a"/>
<circle cx="675.3" cy="627.3" r="4.9" fill="#3db54a"/>
<polygon points="402.6,631.7 413,631.7 407.8,621.7" fill="#ee3124"/>
<polygon points="456.1,631.7 466.5,631.7 461.3,621.7" fill="#ee3124"/>
<polygon points="509.6,631.7 520,631.7 514.8,621.7" fill="#ee3124"/>
<polygon points="546.99,631.7 557.39,631.7 552.19,621.7" fill="#ee3124"/>
<polygon points="563.1,631.7 573.5,631.7 568.3,621.7" fill="#ee3124"/>
<polygon points="584.39,631.7 594.79,631.7 589.59,621.7" fill="#ee3124"/>
<polygon points="600.49,631.7 610.89,631.7 605.69,621.7" fill="#ee3124"/>
<polygon points="616.6,631.7 627,631.7 621.8,621.7" fill="#ee3124"/>
<polygon points="637.89,631.7 648.29,631.7 643.09,621.7" fill="#ee3124"/>
<polygon points="653.99,631.7 664.39,631.7 659.19,621.7" fill="#ee3124"/>
<polygon points="670.1,631.7 680.5,631.7 675.3,621.7" fill="#ee3124"/>
<line x1="589.59" y1="572.4" x2="589.59" y2="585.1" stroke="#3c57a7" stroke-width="1.0" />
<line x1="584.59" y1="572.4" x2="594.59" y2="572.4" stroke="#3c57a7" stroke-width="1.0" />
<line x1="584.59" y1="585.1" x2="594.59" y2="585.1" stroke="#3c57a7" stroke-width="1.0" />
<line x1="605.69" y1="535.4" x2="605.69" y2="551.8" stroke="#3c57a7" stroke-width="1.0" />
<line x1="600.69" y1="535.4" x2="610.69" y2="535.4" stroke="#3c57a7" stroke-width="1.0" />
<line x1="600.69" y1="551.8" x2="610.69" y2="551.8" stroke="#3c57a7" stroke-width="1.0" />
<line x1="621.8" y1="482.2" x2="621.8" y2="514" stroke="#3c57a7" stroke-width="1.0" />
<line x1="616.8" y1="482.2" x2="626.8" y2="482.2" stroke="#3c57a7" stroke-width="1.0" />
<line x1="616.8" y1="514" x2="626.8" y2="514" stroke="#3c57a7" stroke-width="1.0" />
<line x1="643.09" y1="424.2" x2="643.09" y2="440.5" stroke="#3c57a7" stroke-width="1.0" />
<line x1="638.09" y1="424.2" x2="648.09" y2="424.2" stroke="#3c57a7" stroke-width="1.0" />
<line x1="638.09" y1="440.5" x2="648.09" y2="440.5" stroke="#3c57a7" stroke-width="1.0" />
<line x1="659.19" y1="403.7" x2="659.19" y2="443.1" stroke="#3c57a7" stroke-width="1.0" />
<line x1="654.19" y1="403.7" x2="664.19" y2="403.7" stroke="#3c57a7" stroke-width="1.0" />
<line x1="654.19" y1="443.1" x2="664.19" y2="443.1" stroke="#3c57a7" stroke-width="1.0" />
<line x1="675.3" y1="450.3" x2="675.3" y2="472.3" stroke="#3c57a7" stroke-width="1.0" />
<line x1="670.3" y1="450.3" x2="680.3" y2="450.3" stroke="#3c57a7" stroke-width="1.0" />
<line x1="670.3" y1="472.3" x2="680.3" y2="472.3" stroke="#3c57a7" stroke-width="1.0" />
<rect x="402.8" y="621" width="10" height="10" fill="#3c57a7"/>
<rect x="456.3" y="621" width="10" height="10" fill="#3c57a7"/>
<rect x="509.8" y="620.4" width="10" height="10" fill="#3c57a7"/>
<rect x="547.19" y="611.03" width="10" height="10" fill="#3c57a7"/>
<rect x="563.3" y="596.32" width="10" height="10" fill="#3c57a7"/>
<rect x="584.59" y="573.51" width="10" height="10" fill="#3c57a7"/>
<rect x="600.69" y="538.6" width="10" height="10" fill="#3c57a7"/>
<rect x="616.8" y="492.99" width="10" height="10" fill="#3c57a7"/>
<rect x="638.09" y="427.32" width="10" height="10" fill="#3c57a7"/>
<rect x="654.19" y="418.18" width="10" height="10" fill="#3c57a7"/>
<rect x="670.3" y="456.57" width="10" height="10" fill="#3c57a7"/>
<line x1="425.2" y1="360.8" x2="461.6" y2="360.8" stroke="#5c5c5c" stroke-width="1.25" />
<rect x="437.9" y="355.5" width="10.6" height="10.6" fill="#3c57a7"/>
<text transform="translate(476.6,364.8) scale(1,1.04)" font-size="14.2" text-anchor="start" fill="#111111" stroke="#111111" stroke-width="0.22" textLength="49.8" lengthAdjust="spacingAndGlyphs" >SAADG</text>
<line x1="425.2" y1="385.5" x2="461.6" y2="385.5" stroke="#222" stroke-width="1.25" />
<polygon points="437.8,390.5 448.6,390.5 443.2,380.5" fill="#ee3124"/>
<text transform="translate(476.6,389.5) scale(1,1.04)" font-size="14.2" text-anchor="start" fill="#111111" stroke="#111111" stroke-width="0.22" textLength="51.4" lengthAdjust="spacingAndGlyphs" >SADOG</text>
<line x1="425.2" y1="411.9" x2="461.6" y2="411.9" stroke="#5c5c5c" stroke-width="1.25" />
<circle cx="443.2" cy="411.9" r="5.2" fill="#3db54a"/>
<text transform="translate(476.6,415.9) scale(1,1.04)" font-size="14.2" text-anchor="start" fill="#111111" stroke="#111111" stroke-width="0.22" textLength="29.4" lengthAdjust="spacingAndGlyphs" >SCA</text>
<text transform="translate(700,355.2) scale(1,1)" font-size="21.5" text-anchor="start" fill="#111111" stroke="#111111" stroke-width="0.22" >d</text>
<rect x="806.4" y="577.62" width="27.2" height="49.18" fill="#fbaa27" stroke="#2b2b2b" stroke-width="0.9"/>
<rect x="847.2" y="529.47" width="27.2" height="97.33" fill="#fbaa27" stroke="#2b2b2b" stroke-width="0.9"/>
<rect x="887.5" y="462.54" width="27.2" height="164.26" fill="#fbaa27" stroke="#2b2b2b" stroke-width="0.9"/>
<rect x="928.1" y="451.27" width="27.2" height="175.53" fill="#fbaa27" stroke="#2b2b2b" stroke-width="0.9"/>
<rect x="1036.4" y="579.88" width="27.2" height="46.92" fill="#3c57a7" stroke="#2b2b2b" stroke-width="0.9"/>
<rect x="1077.2" y="530.7" width="27.2" height="96.1" fill="#3c57a7" stroke="#2b2b2b" stroke-width="0.9"/>
<rect x="1117.6" y="466.5" width="27.2" height="160.3" fill="#3c57a7" stroke="#2b2b2b" stroke-width="0.9"/>
<rect x="1158.4" y="449.22" width="27.2" height="177.58" fill="#3c57a7" stroke="#2b2b2b" stroke-width="0.9"/>
<line x1="767.3" y1="624.6" x2="791.3" y2="624.6" stroke="#000" stroke-width="1.0" />
<circle cx="767.8" cy="624.6" r="1.75" fill="#000"/>
<circle cx="775.5" cy="624.6" r="1.75" fill="#000"/>
<circle cx="783.6" cy="624.6" r="1.75" fill="#000"/>
<circle cx="791.3" cy="624.6" r="1.75" fill="#000"/>
<line x1="997.4" y1="624.6" x2="1021.4" y2="624.6" stroke="#000" stroke-width="1.0" />
<circle cx="997.9" cy="624.6" r="1.75" fill="#000"/>
<circle cx="1005.6" cy="624.6" r="1.75" fill="#000"/>
<circle cx="1013.7" cy="624.6" r="1.75" fill="#000"/>
<circle cx="1021.4" cy="624.6" r="1.75" fill="#000"/>
<line x1="820" y1="575.7" x2="820" y2="578.4" stroke="#000" stroke-width="1.05" />
<line x1="813" y1="575.7" x2="827" y2="575.7" stroke="#000" stroke-width="1.05" />
<line x1="813" y1="578.4" x2="827" y2="578.4" stroke="#000" stroke-width="1.05" />
<circle cx="808.6" cy="577.7" r="1.75" fill="#000"/>
<circle cx="816.1" cy="574.6" r="1.75" fill="#000"/>
<circle cx="824.4" cy="577.3" r="1.75" fill="#000"/>
<circle cx="831.7" cy="577.3" r="1.75" fill="#000"/>
<line x1="860.8" y1="521.8" x2="860.8" y2="535" stroke="#000" stroke-width="1.05" />
<line x1="853.8" y1="521.8" x2="867.8" y2="521.8" stroke="#000" stroke-width="1.05" />
<line x1="853.8" y1="535" x2="867.8" y2="535" stroke="#000" stroke-width="1.05" />
<circle cx="860.7" cy="518.9" r="1.75" fill="#000"/>
<circle cx="853.4" cy="533.7" r="1.75" fill="#000"/>
<circle cx="860.7" cy="531.5" r="1.75" fill="#000"/>
<circle cx="868.2" cy="531.5" r="1.75" fill="#000"/>
<line x1="901.2" y1="449.6" x2="901.2" y2="475.3" stroke="#000" stroke-width="1.05" />
<line x1="894.2" y1="449.6" x2="908.2" y2="449.6" stroke="#000" stroke-width="1.05" />
<line x1="894.2" y1="475.3" x2="908.2" y2="475.3" stroke="#000" stroke-width="1.05" />
<circle cx="901.2" cy="445.8" r="1.75" fill="#000"/>
<circle cx="897.5" cy="461" r="1.75" fill="#000"/>
<circle cx="904.8" cy="464.5" r="1.75" fill="#000"/>
<circle cx="901.2" cy="478.2" r="1.75" fill="#000"/>
<line x1="942" y1="434.1" x2="942" y2="467.6" stroke="#000" stroke-width="1.05" />
<line x1="935" y1="434.1" x2="949" y2="434.1" stroke="#000" stroke-width="1.05" />
<line x1="935" y1="467.6" x2="949" y2="467.6" stroke="#000" stroke-width="1.05" />
<circle cx="942" cy="426.9" r="1.75" fill="#000"/>
<circle cx="938.2" cy="455.7" r="1.75" fill="#000"/>
<circle cx="945.9" cy="456.8" r="1.75" fill="#000"/>
<circle cx="942" cy="465" r="1.75" fill="#000"/>
<line x1="1050" y1="578.2" x2="1050" y2="580.6" stroke="#000" stroke-width="1.05" />
<line x1="1043" y1="578.2" x2="1057" y2="578.2" stroke="#000" stroke-width="1.05" />
<line x1="1043" y1="580.6" x2="1057" y2="580.6" stroke="#000" stroke-width="1.05" />
<circle cx="1038.2" cy="579.9" r="1.75" fill="#000"/>
<circle cx="1045.9" cy="578.1" r="1.75" fill="#000"/>
<circle cx="1054.3" cy="580.3" r="1.75" fill="#000"/>
<circle cx="1061.8" cy="579.2" r="1.75" fill="#000"/>
<line x1="1090.6" y1="524.4" x2="1090.6" y2="536.3" stroke="#000" stroke-width="1.05" />
<line x1="1083.6" y1="524.4" x2="1097.6" y2="524.4" stroke="#000" stroke-width="1.05" />
<line x1="1083.6" y1="536.3" x2="1097.6" y2="536.3" stroke="#000" stroke-width="1.05" />
<circle cx="1083.3" cy="525.5" r="1.75" fill="#000"/>
<circle cx="1098.3" cy="527.7" r="1.75" fill="#000"/>
<circle cx="1090.6" cy="528.8" r="1.75" fill="#000"/>
<circle cx="1090.6" cy="539.8" r="1.75" fill="#000"/>
<line x1="1131.4" y1="454.3" x2="1131.4" y2="478.5" stroke="#000" stroke-width="1.05" />
<line x1="1124.4" y1="454.3" x2="1138.4" y2="454.3" stroke="#000" stroke-width="1.05" />
<line x1="1124.4" y1="478.5" x2="1138.4" y2="478.5" stroke="#000" stroke-width="1.05" />
<circle cx="1127.4" cy="460.5" r="1.75" fill="#000"/>
<circle cx="1135.1" cy="457.6" r="1.75" fill="#000"/>
<circle cx="1135.1" cy="462" r="1.75" fill="#000"/>
<circle cx="1131.4" cy="484" r="1.75" fill="#000"/>
<line x1="1171.9" y1="426.3" x2="1171.9" y2="471.3" stroke="#000" stroke-width="1.05" />
<line x1="1164.9" y1="426.3" x2="1178.9" y2="426.3" stroke="#000" stroke-width="1.05" />
<line x1="1164.9" y1="471.3" x2="1178.9" y2="471.3" stroke="#000" stroke-width="1.05" />
<circle cx="1171.9" cy="416.6" r="1.75" fill="#000"/>
<circle cx="1171.9" cy="450.8" r="1.75" fill="#000"/>
<circle cx="1171.9" cy="459.6" r="1.75" fill="#000"/>
<circle cx="1171.9" cy="468.5" r="1.75" fill="#000"/>
<text transform="translate(789.2,557) scale(1,1.04)" font-size="14.45" text-anchor="start" fill="#111111" stroke="#111111" stroke-width="0.22" >&lt;0.0001</text>
<text transform="translate(828.1,509.5) scale(1,1.04)" font-size="14.45" text-anchor="start" fill="#111111" stroke="#111111" stroke-width="0.22" >&lt;0.0001</text>
<text transform="translate(870,434.6) scale(1,1.04)" font-size="14.45" text-anchor="start" fill="#111111" stroke="#111111" stroke-width="0.22" >&lt;0.0001</text>
<text transform="translate(907.8,413.7) scale(1,1.04)" font-size="14.45" text-anchor="start" fill="#111111" stroke="#111111" stroke-width="0.22" >&lt;0.0001</text>
<text transform="translate(1021.2,561.6) scale(1,1.04)" font-size="14.45" text-anchor="start" fill="#111111" stroke="#111111" stroke-width="0.22" >&lt;0.0001</text>
<text transform="translate(1060.2,506.1) scale(1,1.04)" font-size="14.45" text-anchor="start" fill="#111111" stroke="#111111" stroke-width="0.22" >&lt;0.0001</text>
<text transform="translate(1101.6,439.7) scale(1,1.04)" font-size="14.45" text-anchor="start" fill="#111111" stroke="#111111" stroke-width="0.22" >&lt;0.0001</text>
<text transform="translate(1141,404.9) scale(1,1.04)" font-size="14.45" text-anchor="start" fill="#111111" stroke="#111111" stroke-width="0.22" >&lt;0.0001</text>
<line x1="752.5" y1="353" x2="752.5" y2="627.4" stroke="#303030" stroke-width="1.2" />
<line x1="738.1" y1="626.8" x2="752.5" y2="626.8" stroke="#303030" stroke-width="1.2" />
<text transform="translate(734.6,633.5) scale(1,1.04)" font-size="18.6" text-anchor="end" fill="#111111" stroke="#111111" stroke-width="0.22" >0</text>
<line x1="738.1" y1="558.5" x2="752.5" y2="558.5" stroke="#303030" stroke-width="1.2" />
<text transform="translate(734.6,565.2) scale(1,1.04)" font-size="18.6" text-anchor="end" fill="#111111" stroke="#111111" stroke-width="0.22" >1</text>
<line x1="738.1" y1="490.2" x2="752.5" y2="490.2" stroke="#303030" stroke-width="1.2" />
<text transform="translate(734.6,496.9) scale(1,1.04)" font-size="18.6" text-anchor="end" fill="#111111" stroke="#111111" stroke-width="0.22" >2</text>
<line x1="738.1" y1="421.9" x2="752.5" y2="421.9" stroke="#303030" stroke-width="1.2" />
<text transform="translate(734.6,428.6) scale(1,1.04)" font-size="18.6" text-anchor="end" fill="#111111" stroke="#111111" stroke-width="0.22" >3</text>
<line x1="738.1" y1="353.6" x2="752.5" y2="353.6" stroke="#303030" stroke-width="1.2" />
<text transform="translate(734.6,360.3) scale(1,1.04)" font-size="18.6" text-anchor="end" fill="#111111" stroke="#111111" stroke-width="0.22" >4</text>
<line x1="738.1" y1="626.8" x2="1199" y2="626.8" stroke="#303030" stroke-width="1.2" />
<line x1="779.3" y1="626.8" x2="779.3" y2="641.1" stroke="#303030" stroke-width="1.2" />
<text transform="translate(779.3,659) scale(1,1.04)" font-size="18.1" text-anchor="middle" fill="#111111" stroke="#111111" stroke-width="0.22" >0</text>
<line x1="820" y1="626.8" x2="820" y2="641.1" stroke="#303030" stroke-width="1.2" />
<text transform="translate(820,659) scale(1,1.04)" font-size="18.1" text-anchor="middle" fill="#111111" stroke="#111111" stroke-width="0.22" >50</text>
<line x1="860.8" y1="626.8" x2="860.8" y2="641.1" stroke="#303030" stroke-width="1.2" />
<text transform="translate(860.8,659) scale(1,1.04)" font-size="18.1" text-anchor="middle" fill="#111111" stroke="#111111" stroke-width="0.22" >100</text>
<line x1="901.1" y1="626.8" x2="901.1" y2="641.1" stroke="#303030" stroke-width="1.2" />
<text transform="translate(901.1,659) scale(1,1.04)" font-size="18.1" text-anchor="middle" fill="#111111" stroke="#111111" stroke-width="0.22" >250</text>
<line x1="941.7" y1="626.8" x2="941.7" y2="641.1" stroke="#303030" stroke-width="1.2" />
<text transform="translate(941.7,659) scale(1,1.04)" font-size="18.1" text-anchor="middle" fill="#111111" stroke="#111111" stroke-width="0.22" >500</text>
<line x1="1009.4" y1="626.8" x2="1009.4" y2="641.1" stroke="#303030" stroke-width="1.2" />
<text transform="translate(1009.4,659) scale(1,1.04)" font-size="18.1" text-anchor="middle" fill="#111111" stroke="#111111" stroke-width="0.22" >0</text>
<line x1="1050" y1="626.8" x2="1050" y2="641.1" stroke="#303030" stroke-width="1.2" />
<text transform="translate(1050,659) scale(1,1.04)" font-size="18.1" text-anchor="middle" fill="#111111" stroke="#111111" stroke-width="0.22" >50</text>
<line x1="1090.8" y1="626.8" x2="1090.8" y2="641.1" stroke="#303030" stroke-width="1.2" />
<text transform="translate(1090.8,659) scale(1,1.04)" font-size="18.1" text-anchor="middle" fill="#111111" stroke="#111111" stroke-width="0.22" >100</text>
<line x1="1131.2" y1="626.8" x2="1131.2" y2="641.1" stroke="#303030" stroke-width="1.2" />
<text transform="translate(1131.2,659) scale(1,1.04)" font-size="18.1" text-anchor="middle" fill="#111111" stroke="#111111" stroke-width="0.22" >250</text>
<line x1="1172" y1="626.8" x2="1172" y2="641.1" stroke="#303030" stroke-width="1.2" />
<text transform="translate(1172,659) scale(1,1.04)" font-size="18.1" text-anchor="middle" fill="#111111" stroke="#111111" stroke-width="0.22" >500</text>
<text transform="translate(968.9,676.2) scale(1,1.04)" font-size="17.9" text-anchor="middle" fill="#111111" stroke="#111111" stroke-width="0.22" >Conc. (µmol/L)</text>
<text transform="translate(717,499.3) rotate(-90) scale(1,1.04)" font-size="17.8" text-anchor="middle" fill="#111111" stroke="#111111" stroke-width="0.22">Insulin (µg/L)</text>
<rect x="813.9" y="354.2" width="40.7" height="9.3" fill="#fbaa27" stroke="#2b2b2b" stroke-width="0.9"/>
<text transform="translate(876.8,365.2) scale(1,1.04)" font-size="14.2" text-anchor="start" fill="#111111" stroke="#111111" stroke-width="0.22" textLength="58.8" lengthAdjust="spacingAndGlyphs" >2,3DHBA</text>
<rect x="1002.3" y="354.2" width="40.7" height="9.3" fill="#3c57a7" stroke="#2b2b2b" stroke-width="0.9"/>
<text transform="translate(1065.8,365.2) scale(1,1.04)" font-size="14.2" text-anchor="start" fill="#111111" stroke="#111111" stroke-width="0.22" textLength="49.4" lengthAdjust="spacingAndGlyphs" >SAADG</text>
</svg>
</body></html>
